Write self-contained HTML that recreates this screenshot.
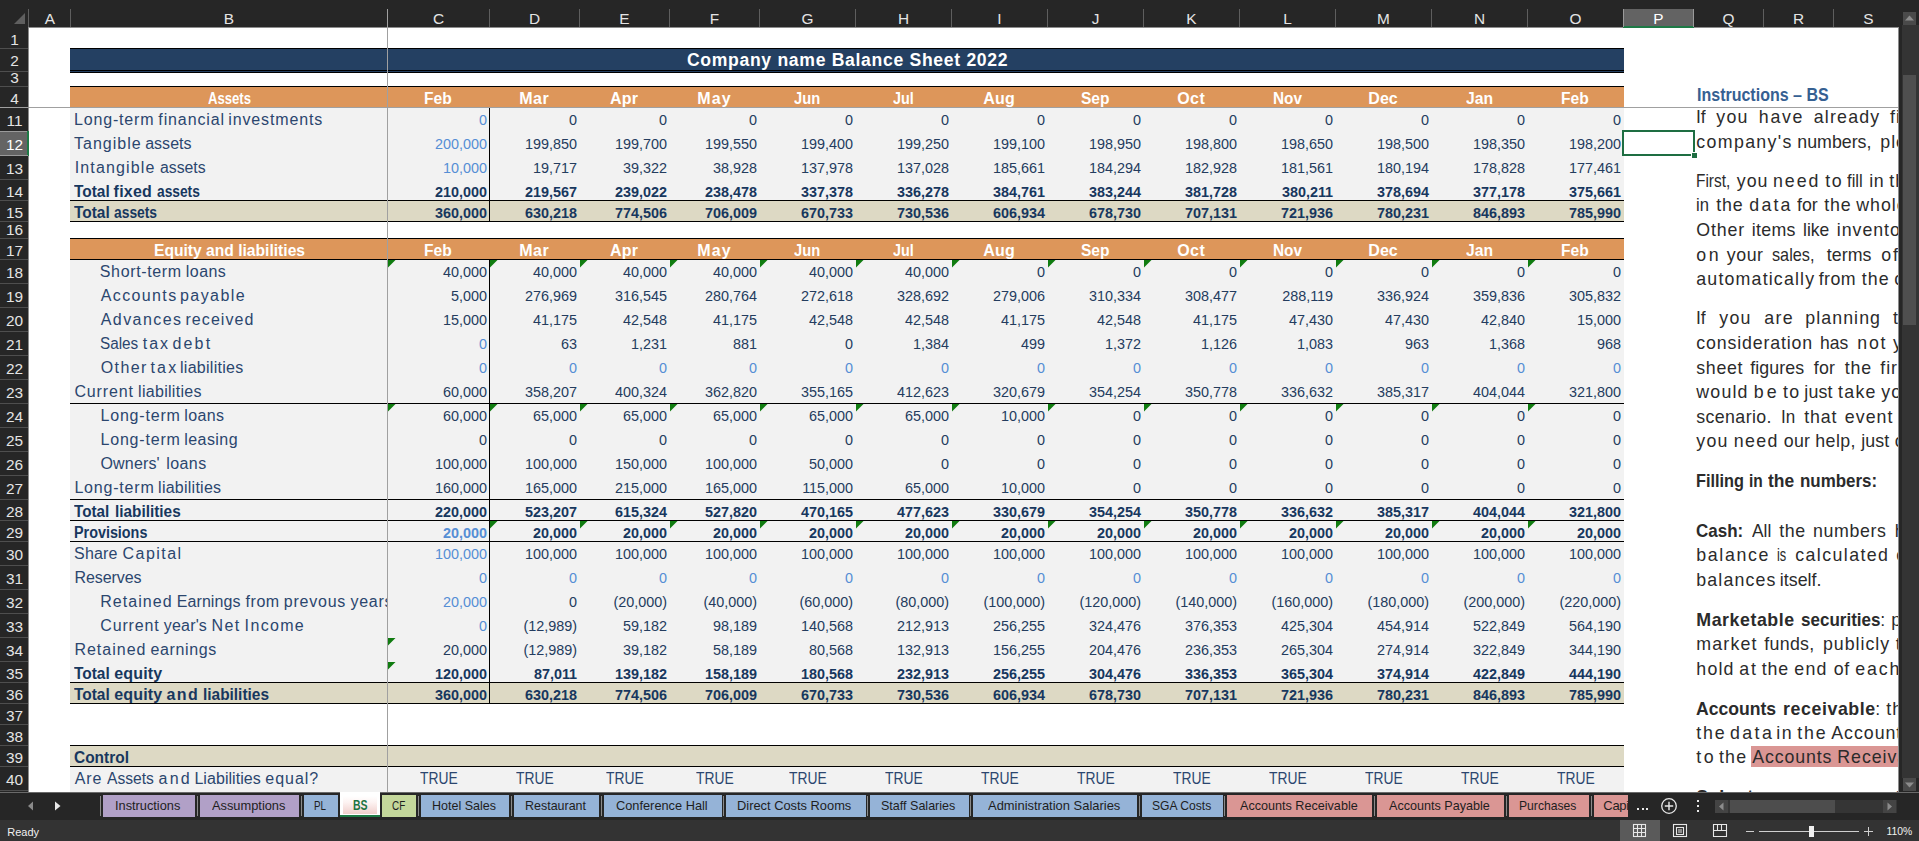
<!DOCTYPE html>
<html><head><meta charset="utf-8"><title>Balance Sheet</title>
<style>
html,body{margin:0;padding:0;background:#fff;}
body{width:1919px;height:841px;overflow:hidden;position:relative;font-family:"Liberation Sans",sans-serif;}
#r{position:absolute;left:0;top:0;width:1919px;height:841px;overflow:hidden;}
#r div,#r svg.a{position:absolute;}
.t{white-space:nowrap;line-height:1;}
</style></head><body><div id="r">
<div style="left:70px;top:48px;width:1554px;height:1px;background:#000;"></div>
<div style="left:70px;top:49px;width:1554px;height:21px;background:#244062;"></div>
<div style="left:70px;top:70px;width:1554px;height:1px;background:#000;"></div>
<div style="left:70px;top:71px;width:1554px;height:1px;background:#244062;"></div>
<div style="left:70px;top:72px;width:1554px;height:1px;background:#000;"></div>
<div style="left:70px;top:86px;width:1554px;height:1px;background:#000;"></div>
<div style="left:70px;top:87px;width:1554px;height:20px;background:#dd965a;"></div>
<div style="left:70px;top:108px;width:1554px;height:92px;background:#f2f2f2;"></div>
<div style="left:70px;top:200px;width:1554px;height:1px;background:#000;"></div>
<div style="left:70px;top:201px;width:1554px;height:20px;background:#ddd9c4;"></div>
<div style="left:70px;top:221px;width:1554px;height:1px;background:#000;"></div>
<div style="left:70px;top:238px;width:1554px;height:1px;background:#000;"></div>
<div style="left:70px;top:239px;width:1554px;height:20px;background:#dd965a;"></div>
<div style="left:70px;top:259px;width:1554px;height:1px;background:#000;"></div>
<div style="left:70px;top:260px;width:1554px;height:422px;background:#f2f2f2;"></div>
<div style="left:70px;top:403px;width:1554px;height:1px;background:#000;"></div>
<div style="left:70px;top:499px;width:1554px;height:1px;background:#000;"></div>
<div style="left:70px;top:520px;width:1554px;height:1px;background:#000;"></div>
<div style="left:70px;top:541px;width:1554px;height:1px;background:#000;"></div>
<div style="left:70px;top:682px;width:1554px;height:1px;background:#000;"></div>
<div style="left:70px;top:683px;width:1554px;height:20px;background:#ddd9c4;"></div>
<div style="left:70px;top:703px;width:1554px;height:1px;background:#000;"></div>
<div style="left:70px;top:745px;width:1554px;height:1px;background:#000;"></div>
<div style="left:70px;top:746px;width:1554px;height:20px;background:#ddd9c4;"></div>
<div style="left:70px;top:766px;width:1554px;height:1px;background:#000;"></div>
<div style="left:70px;top:767px;width:1554px;height:25px;background:#f2f2f2;"></div>
<div style="left:489px;top:108px;width:1px;height:114px;background:#000;"></div>
<div style="left:489px;top:260px;width:1px;height:444px;background:#000;"></div>
<div class="t " style="top:112.46px;font-size:16px;color:#2b466e;letter-spacing:0.829px;left:74.02px;">Long-term</div>
<div class="t " style="top:112.46px;font-size:16px;color:#2b466e;letter-spacing:0.882px;left:158.32px;">financial</div>
<div class="t " style="top:112.46px;font-size:16px;color:#2b466e;letter-spacing:0.849px;left:228.32px;">investments</div>
<div class="t " style="top:136.46px;font-size:16px;color:#2b466e;letter-spacing:1.008px;left:74.02px;">Tangible</div>
<div class="t " style="top:136.46px;font-size:16px;color:#2b466e;letter-spacing:0.003px;left:145.22px;">assets</div>
<div class="t " style="top:160.46px;font-size:16px;color:#2b466e;letter-spacing:1.152px;left:74.72px;">Intangible</div>
<div class="t " style="top:160.46px;font-size:16px;color:#2b466e;left:159.52px;transform:scaleX(0.9874);transform-origin:0 0;">assets</div>
<div class="t " style="top:183.96px;font-size:16px;color:#17375e;font-weight:bold;left:74.02px;transform:scaleX(0.9656);transform-origin:0 0;">Total</div>
<div class="t " style="top:183.96px;font-size:16px;color:#17375e;font-weight:bold;letter-spacing:0.229px;left:113.62px;">fixed</div>
<div class="t " style="top:183.96px;font-size:16px;color:#17375e;font-weight:bold;left:156.62px;transform:scaleX(0.8603);transform-origin:0 0;">assets</div>
<div class="t " style="top:204.96px;font-size:16px;color:#17375e;font-weight:bold;left:74.02px;transform:scaleX(0.9656);transform-origin:0 0;">Total</div>
<div class="t " style="top:204.96px;font-size:16px;color:#17375e;font-weight:bold;left:114.32px;transform:scaleX(0.8643);transform-origin:0 0;">assets</div>
<div class="t " style="top:264.46px;font-size:16px;color:#2b466e;letter-spacing:0.632px;left:99.82px;">Short-term</div>
<div class="t " style="top:264.46px;font-size:16px;color:#2b466e;letter-spacing:0.452px;left:185.82px;">loans</div>
<div class="t " style="top:288.46px;font-size:16px;color:#2b466e;letter-spacing:1.378px;left:100.72px;">Accounts</div>
<div class="t " style="top:288.46px;font-size:16px;color:#2b466e;letter-spacing:1.435px;left:180.02px;">payable</div>
<div class="t " style="top:312.46px;font-size:16px;color:#2b466e;letter-spacing:1.427px;left:100.72px;">Advances</div>
<div class="t " style="top:312.46px;font-size:16px;color:#2b466e;letter-spacing:1.083px;left:185.42px;">received</div>
<div class="t " style="top:336.46px;font-size:16px;color:#2b466e;left:100.02px;transform:scaleX(0.9559);transform-origin:0 0;">Sales</div>
<div class="t " style="top:336.46px;font-size:16px;color:#2b466e;letter-spacing:2.008px;left:142.72px;">tax</div>
<div class="t " style="top:336.46px;font-size:16px;color:#2b466e;letter-spacing:2.140px;left:172.52px;">debt</div>
<div class="t " style="top:360.46px;font-size:16px;color:#2b466e;letter-spacing:1.411px;left:100.72px;">Other</div>
<div class="t " style="top:360.46px;font-size:16px;color:#2b466e;letter-spacing:2.208px;left:150.42px;">tax</div>
<div class="t " style="top:360.46px;font-size:16px;color:#2b466e;letter-spacing:0.279px;left:180.02px;">liabilities</div>
<div class="t " style="top:384.46px;font-size:16px;color:#2b466e;letter-spacing:0.851px;left:74.42px;">Current</div>
<div class="t " style="top:384.46px;font-size:16px;color:#2b466e;letter-spacing:0.289px;left:138.12px;">liabilities</div>
<div class="t " style="top:408.46px;font-size:16px;color:#2b466e;letter-spacing:0.804px;left:100.52px;">Long-term</div>
<div class="t " style="top:408.46px;font-size:16px;color:#2b466e;letter-spacing:0.402px;left:184.22px;">loans</div>
<div class="t " style="top:432.46px;font-size:16px;color:#2b466e;letter-spacing:0.804px;left:100.52px;">Long-term</div>
<div class="t " style="top:432.46px;font-size:16px;color:#2b466e;letter-spacing:0.442px;left:184.22px;">leasing</div>
<div class="t " style="top:456.46px;font-size:16px;color:#2b466e;letter-spacing:0.163px;left:100.52px;">Owners&#39;</div>
<div class="t " style="top:456.46px;font-size:16px;color:#2b466e;letter-spacing:0.427px;left:166.22px;">loans</div>
<div class="t " style="top:480.46px;font-size:16px;color:#2b466e;letter-spacing:0.804px;left:74.42px;">Long-term</div>
<div class="t " style="top:480.46px;font-size:16px;color:#2b466e;letter-spacing:0.249px;left:158.12px;">liabilities</div>
<div class="t " style="top:503.96px;font-size:16px;color:#17375e;font-weight:bold;left:74.02px;transform:scaleX(0.9521);transform-origin:0 0;">Total</div>
<div class="t " style="top:503.96px;font-size:16px;color:#17375e;font-weight:bold;left:114.62px;transform:scaleX(0.9590);transform-origin:0 0;">liabilities</div>
<div class="t " style="top:524.96px;font-size:16px;color:#17375e;font-weight:bold;left:74.02px;transform:scaleX(0.8968);transform-origin:0 0;">Provisions</div>
<div class="t " style="top:546.46px;font-size:16px;color:#2b466e;letter-spacing:0.191px;left:74.02px;">Share</div>
<div class="t " style="top:546.46px;font-size:16px;color:#2b466e;letter-spacing:1.459px;left:122.52px;">Capital</div>
<div class="t " style="top:570.46px;font-size:16px;color:#2b466e;letter-spacing:-0.060px;left:74.42px;">Reserves</div>
<div style="left:70px;top:589px;width:317px;height:24px;overflow:hidden">
<div class="t " style="top:5.46px;font-size:16px;color:#2b466e;letter-spacing:1.059px;left:30.22px;">Retained</div>
<div class="t " style="top:5.46px;font-size:16px;color:#2b466e;letter-spacing:0.087px;left:106.72px;">Earnings</div>
<div class="t " style="top:5.46px;font-size:16px;color:#2b466e;letter-spacing:0.553px;left:175.52px;">from</div>
<div class="t " style="top:5.46px;font-size:16px;color:#2b466e;letter-spacing:0.773px;left:213.82px;">prevous</div>
<div class="t " style="top:5.46px;font-size:16px;color:#2b466e;letter-spacing:0.733px;left:280.42px;">years</div>
</div>
<div class="t " style="top:618.46px;font-size:16px;color:#2b466e;letter-spacing:0.868px;left:100.22px;">Current</div>
<div class="t " style="top:618.46px;font-size:16px;color:#2b466e;letter-spacing:0.176px;left:163.82px;">year&#39;s</div>
<div class="t " style="top:618.46px;font-size:16px;color:#2b466e;letter-spacing:1.381px;left:211.62px;">Net</div>
<div class="t " style="top:618.46px;font-size:16px;color:#2b466e;letter-spacing:1.338px;left:244.62px;">Income</div>
<div class="t " style="top:642.46px;font-size:16px;color:#2b466e;letter-spacing:1.002px;left:74.42px;">Retained</div>
<div class="t " style="top:642.46px;font-size:16px;color:#2b466e;letter-spacing:0.655px;left:150.42px;">earnings</div>
<div class="t " style="top:665.96px;font-size:16px;color:#17375e;font-weight:bold;left:74.02px;transform:scaleX(0.9656);transform-origin:0 0;">Total</div>
<div class="t " style="top:665.96px;font-size:16px;color:#17375e;font-weight:bold;letter-spacing:0.148px;left:114.32px;">equity</div>
<div class="t " style="top:686.96px;font-size:16px;color:#17375e;font-weight:bold;left:74.02px;transform:scaleX(0.9656);transform-origin:0 0;">Total</div>
<div class="t " style="top:686.96px;font-size:16px;color:#17375e;font-weight:bold;letter-spacing:0.148px;left:114.32px;">equity</div>
<div class="t " style="top:686.96px;font-size:16px;color:#17375e;font-weight:bold;letter-spacing:1.457px;left:166.42px;">and</div>
<div class="t " style="top:686.96px;font-size:16px;color:#17375e;font-weight:bold;left:202.52px;transform:scaleX(0.9634);transform-origin:0 0;">liabilities</div>
<div class="t " style="top:749.96px;font-size:16px;color:#17375e;font-weight:bold;left:74.02px;transform:scaleX(0.9663);transform-origin:0 0;">Control</div>
<div class="t " style="top:771.46px;font-size:16px;color:#2b466e;letter-spacing:0.930px;left:74.72px;">Are</div>
<div class="t " style="top:771.46px;font-size:16px;color:#2b466e;left:106.72px;transform:scaleX(0.9759);transform-origin:0 0;">Assets</div>
<div class="t " style="top:771.46px;font-size:16px;color:#2b466e;letter-spacing:2.182px;left:158.62px;">and</div>
<div class="t " style="top:771.46px;font-size:16px;color:#2b466e;letter-spacing:0.055px;left:194.42px;">Liabilities</div>
<div class="t " style="top:771.46px;font-size:16px;color:#2b466e;letter-spacing:0.962px;left:265.32px;">equal?</div>
<div class="t " style="top:91.16px;font-size:16px;color:#fff;font-weight:bold;left:207.50px;transform:scaleX(0.8194);transform-origin:0 0;">Assets</div>
<div class="t " style="top:91.16px;font-size:16px;color:#fff;font-weight:bold;left:424.15px;transform:scaleX(0.9738);transform-origin:0 0;">Feb</div>
<div class="t " style="top:91.16px;font-size:16px;color:#fff;font-weight:bold;letter-spacing:0.423px;left:519.35px;">Mar</div>
<div class="t " style="top:91.16px;font-size:16px;color:#fff;font-weight:bold;letter-spacing:0.223px;left:610.00px;">Apr</div>
<div class="t " style="top:91.16px;font-size:16px;color:#fff;font-weight:bold;letter-spacing:1.137px;left:697.30px;">May</div>
<div class="t " style="top:91.16px;font-size:16px;color:#fff;font-weight:bold;left:793.90px;transform:scaleX(0.9210);transform-origin:0 0;">Jun</div>
<div class="t " style="top:91.16px;font-size:16px;color:#fff;font-weight:bold;left:892.65px;transform:scaleX(0.8954);transform-origin:0 0;">Jul</div>
<div class="t " style="top:91.16px;font-size:16px;color:#fff;font-weight:bold;letter-spacing:0.199px;left:983.25px;">Aug</div>
<div class="t " style="top:91.16px;font-size:16px;color:#fff;font-weight:bold;left:1080.75px;transform:scaleX(0.9712);transform-origin:0 0;">Sep</div>
<div class="t " style="top:91.16px;font-size:16px;color:#fff;font-weight:bold;letter-spacing:0.414px;left:1177.25px;">Oct</div>
<div class="t " style="top:91.16px;font-size:16px;color:#fff;font-weight:bold;left:1272.50px;transform:scaleX(0.9594);transform-origin:0 0;">Nov</div>
<div class="t " style="top:91.16px;font-size:16px;color:#fff;font-weight:bold;letter-spacing:0.074px;left:1368.25px;">Dec</div>
<div class="t " style="top:91.16px;font-size:16px;color:#fff;font-weight:bold;left:1465.50px;transform:scaleX(0.9793);transform-origin:0 0;">Jan</div>
<div class="t " style="top:91.16px;font-size:16px;color:#fff;font-weight:bold;left:1561.15px;transform:scaleX(0.9738);transform-origin:0 0;">Feb</div>
<div class="t " style="top:243.16px;font-size:16px;color:#fff;font-weight:bold;left:153.50px;transform:scaleX(0.9761);transform-origin:0 0;">Equity and liabilities</div>
<div class="t " style="top:243.16px;font-size:16px;color:#fff;font-weight:bold;left:424.15px;transform:scaleX(0.9738);transform-origin:0 0;">Feb</div>
<div class="t " style="top:243.16px;font-size:16px;color:#fff;font-weight:bold;letter-spacing:0.423px;left:519.35px;">Mar</div>
<div class="t " style="top:243.16px;font-size:16px;color:#fff;font-weight:bold;letter-spacing:0.223px;left:610.00px;">Apr</div>
<div class="t " style="top:243.16px;font-size:16px;color:#fff;font-weight:bold;letter-spacing:1.137px;left:697.30px;">May</div>
<div class="t " style="top:243.16px;font-size:16px;color:#fff;font-weight:bold;left:793.90px;transform:scaleX(0.9210);transform-origin:0 0;">Jun</div>
<div class="t " style="top:243.16px;font-size:16px;color:#fff;font-weight:bold;left:892.65px;transform:scaleX(0.8954);transform-origin:0 0;">Jul</div>
<div class="t " style="top:243.16px;font-size:16px;color:#fff;font-weight:bold;letter-spacing:0.199px;left:983.25px;">Aug</div>
<div class="t " style="top:243.16px;font-size:16px;color:#fff;font-weight:bold;left:1080.75px;transform:scaleX(0.9712);transform-origin:0 0;">Sep</div>
<div class="t " style="top:243.16px;font-size:16px;color:#fff;font-weight:bold;letter-spacing:0.414px;left:1177.25px;">Oct</div>
<div class="t " style="top:243.16px;font-size:16px;color:#fff;font-weight:bold;left:1272.50px;transform:scaleX(0.9594);transform-origin:0 0;">Nov</div>
<div class="t " style="top:243.16px;font-size:16px;color:#fff;font-weight:bold;letter-spacing:0.074px;left:1368.25px;">Dec</div>
<div class="t " style="top:243.16px;font-size:16px;color:#fff;font-weight:bold;left:1465.50px;transform:scaleX(0.9793);transform-origin:0 0;">Jan</div>
<div class="t " style="top:243.16px;font-size:16px;color:#fff;font-weight:bold;left:1561.15px;transform:scaleX(0.9738);transform-origin:0 0;">Feb</div>
<div class="t " style="top:52.10px;font-size:17.6px;color:#fff;font-weight:bold;letter-spacing:0.683px;left:686.90px;">Company name Balance Sheet 2022</div>
<div class="t " style="top:113.01px;font-size:14.4px;color:#558ed5;right:1431.90px;">0</div>
<div class="t " style="top:113.01px;font-size:14.4px;color:#243c5e;right:1341.90px;">0</div>
<div class="t " style="top:113.01px;font-size:14.4px;color:#243c5e;right:1251.90px;">0</div>
<div class="t " style="top:113.01px;font-size:14.4px;color:#243c5e;right:1161.90px;">0</div>
<div class="t " style="top:113.01px;font-size:14.4px;color:#243c5e;right:1065.90px;">0</div>
<div class="t " style="top:113.01px;font-size:14.4px;color:#243c5e;right:969.90px;">0</div>
<div class="t " style="top:113.01px;font-size:14.4px;color:#243c5e;right:873.90px;">0</div>
<div class="t " style="top:113.01px;font-size:14.4px;color:#243c5e;right:777.90px;">0</div>
<div class="t " style="top:113.01px;font-size:14.4px;color:#243c5e;right:681.90px;">0</div>
<div class="t " style="top:113.01px;font-size:14.4px;color:#243c5e;right:585.90px;">0</div>
<div class="t " style="top:113.01px;font-size:14.4px;color:#243c5e;right:489.90px;">0</div>
<div class="t " style="top:113.01px;font-size:14.4px;color:#243c5e;right:393.90px;">0</div>
<div class="t " style="top:113.01px;font-size:14.4px;color:#243c5e;right:297.90px;">0</div>
<div class="t " style="top:137.01px;font-size:14.4px;color:#558ed5;right:1431.90px;">200,000</div>
<div class="t " style="top:137.01px;font-size:14.4px;color:#243c5e;right:1341.90px;">199,850</div>
<div class="t " style="top:137.01px;font-size:14.4px;color:#243c5e;right:1251.90px;">199,700</div>
<div class="t " style="top:137.01px;font-size:14.4px;color:#243c5e;right:1161.90px;">199,550</div>
<div class="t " style="top:137.01px;font-size:14.4px;color:#243c5e;right:1065.90px;">199,400</div>
<div class="t " style="top:137.01px;font-size:14.4px;color:#243c5e;right:969.90px;">199,250</div>
<div class="t " style="top:137.01px;font-size:14.4px;color:#243c5e;right:873.90px;">199,100</div>
<div class="t " style="top:137.01px;font-size:14.4px;color:#243c5e;right:777.90px;">198,950</div>
<div class="t " style="top:137.01px;font-size:14.4px;color:#243c5e;right:681.90px;">198,800</div>
<div class="t " style="top:137.01px;font-size:14.4px;color:#243c5e;right:585.90px;">198,650</div>
<div class="t " style="top:137.01px;font-size:14.4px;color:#243c5e;right:489.90px;">198,500</div>
<div class="t " style="top:137.01px;font-size:14.4px;color:#243c5e;right:393.90px;">198,350</div>
<div class="t " style="top:137.01px;font-size:14.4px;color:#243c5e;right:297.90px;">198,200</div>
<div class="t " style="top:161.01px;font-size:14.4px;color:#558ed5;right:1431.90px;">10,000</div>
<div class="t " style="top:161.01px;font-size:14.4px;color:#243c5e;right:1341.90px;">19,717</div>
<div class="t " style="top:161.01px;font-size:14.4px;color:#243c5e;right:1251.90px;">39,322</div>
<div class="t " style="top:161.01px;font-size:14.4px;color:#243c5e;right:1161.90px;">38,928</div>
<div class="t " style="top:161.01px;font-size:14.4px;color:#243c5e;right:1065.90px;">137,978</div>
<div class="t " style="top:161.01px;font-size:14.4px;color:#243c5e;right:969.90px;">137,028</div>
<div class="t " style="top:161.01px;font-size:14.4px;color:#243c5e;right:873.90px;">185,661</div>
<div class="t " style="top:161.01px;font-size:14.4px;color:#243c5e;right:777.90px;">184,294</div>
<div class="t " style="top:161.01px;font-size:14.4px;color:#243c5e;right:681.90px;">182,928</div>
<div class="t " style="top:161.01px;font-size:14.4px;color:#243c5e;right:585.90px;">181,561</div>
<div class="t " style="top:161.01px;font-size:14.4px;color:#243c5e;right:489.90px;">180,194</div>
<div class="t " style="top:161.01px;font-size:14.4px;color:#243c5e;right:393.90px;">178,828</div>
<div class="t " style="top:161.01px;font-size:14.4px;color:#243c5e;right:297.90px;">177,461</div>
<div class="t " style="top:185.31px;font-size:14.4px;color:#17375e;font-weight:bold;right:1431.90px;">210,000</div>
<div class="t " style="top:185.31px;font-size:14.4px;color:#17375e;font-weight:bold;right:1341.90px;">219,567</div>
<div class="t " style="top:185.31px;font-size:14.4px;color:#17375e;font-weight:bold;right:1251.90px;">239,022</div>
<div class="t " style="top:185.31px;font-size:14.4px;color:#17375e;font-weight:bold;right:1161.90px;">238,478</div>
<div class="t " style="top:185.31px;font-size:14.4px;color:#17375e;font-weight:bold;right:1065.90px;">337,378</div>
<div class="t " style="top:185.31px;font-size:14.4px;color:#17375e;font-weight:bold;right:969.90px;">336,278</div>
<div class="t " style="top:185.31px;font-size:14.4px;color:#17375e;font-weight:bold;right:873.90px;">384,761</div>
<div class="t " style="top:185.31px;font-size:14.4px;color:#17375e;font-weight:bold;right:777.90px;">383,244</div>
<div class="t " style="top:185.31px;font-size:14.4px;color:#17375e;font-weight:bold;right:681.90px;">381,728</div>
<div class="t " style="top:185.31px;font-size:14.4px;color:#17375e;font-weight:bold;right:585.90px;">380,211</div>
<div class="t " style="top:185.31px;font-size:14.4px;color:#17375e;font-weight:bold;right:489.90px;">378,694</div>
<div class="t " style="top:185.31px;font-size:14.4px;color:#17375e;font-weight:bold;right:393.90px;">377,178</div>
<div class="t " style="top:185.31px;font-size:14.4px;color:#17375e;font-weight:bold;right:297.90px;">375,661</div>
<div class="t " style="top:206.31px;font-size:14.4px;color:#17375e;font-weight:bold;right:1431.90px;">360,000</div>
<div class="t " style="top:206.31px;font-size:14.4px;color:#17375e;font-weight:bold;right:1341.90px;">630,218</div>
<div class="t " style="top:206.31px;font-size:14.4px;color:#17375e;font-weight:bold;right:1251.90px;">774,506</div>
<div class="t " style="top:206.31px;font-size:14.4px;color:#17375e;font-weight:bold;right:1161.90px;">706,009</div>
<div class="t " style="top:206.31px;font-size:14.4px;color:#17375e;font-weight:bold;right:1065.90px;">670,733</div>
<div class="t " style="top:206.31px;font-size:14.4px;color:#17375e;font-weight:bold;right:969.90px;">730,536</div>
<div class="t " style="top:206.31px;font-size:14.4px;color:#17375e;font-weight:bold;right:873.90px;">606,934</div>
<div class="t " style="top:206.31px;font-size:14.4px;color:#17375e;font-weight:bold;right:777.90px;">678,730</div>
<div class="t " style="top:206.31px;font-size:14.4px;color:#17375e;font-weight:bold;right:681.90px;">707,131</div>
<div class="t " style="top:206.31px;font-size:14.4px;color:#17375e;font-weight:bold;right:585.90px;">721,936</div>
<div class="t " style="top:206.31px;font-size:14.4px;color:#17375e;font-weight:bold;right:489.90px;">780,231</div>
<div class="t " style="top:206.31px;font-size:14.4px;color:#17375e;font-weight:bold;right:393.90px;">846,893</div>
<div class="t " style="top:206.31px;font-size:14.4px;color:#17375e;font-weight:bold;right:297.90px;">785,990</div>
<div class="t " style="top:265.01px;font-size:14.4px;color:#243c5e;right:1431.90px;">40,000</div>
<div class="t " style="top:265.01px;font-size:14.4px;color:#243c5e;right:1341.90px;">40,000</div>
<div class="t " style="top:265.01px;font-size:14.4px;color:#243c5e;right:1251.90px;">40,000</div>
<div class="t " style="top:265.01px;font-size:14.4px;color:#243c5e;right:1161.90px;">40,000</div>
<div class="t " style="top:265.01px;font-size:14.4px;color:#243c5e;right:1065.90px;">40,000</div>
<div class="t " style="top:265.01px;font-size:14.4px;color:#243c5e;right:969.90px;">40,000</div>
<div class="t " style="top:265.01px;font-size:14.4px;color:#243c5e;right:873.90px;">0</div>
<div class="t " style="top:265.01px;font-size:14.4px;color:#243c5e;right:777.90px;">0</div>
<div class="t " style="top:265.01px;font-size:14.4px;color:#243c5e;right:681.90px;">0</div>
<div class="t " style="top:265.01px;font-size:14.4px;color:#243c5e;right:585.90px;">0</div>
<div class="t " style="top:265.01px;font-size:14.4px;color:#243c5e;right:489.90px;">0</div>
<div class="t " style="top:265.01px;font-size:14.4px;color:#243c5e;right:393.90px;">0</div>
<div class="t " style="top:265.01px;font-size:14.4px;color:#243c5e;right:297.90px;">0</div>
<div class="t " style="top:289.01px;font-size:14.4px;color:#243c5e;right:1431.90px;">5,000</div>
<div class="t " style="top:289.01px;font-size:14.4px;color:#243c5e;right:1341.90px;">276,969</div>
<div class="t " style="top:289.01px;font-size:14.4px;color:#243c5e;right:1251.90px;">316,545</div>
<div class="t " style="top:289.01px;font-size:14.4px;color:#243c5e;right:1161.90px;">280,764</div>
<div class="t " style="top:289.01px;font-size:14.4px;color:#243c5e;right:1065.90px;">272,618</div>
<div class="t " style="top:289.01px;font-size:14.4px;color:#243c5e;right:969.90px;">328,692</div>
<div class="t " style="top:289.01px;font-size:14.4px;color:#243c5e;right:873.90px;">279,006</div>
<div class="t " style="top:289.01px;font-size:14.4px;color:#243c5e;right:777.90px;">310,334</div>
<div class="t " style="top:289.01px;font-size:14.4px;color:#243c5e;right:681.90px;">308,477</div>
<div class="t " style="top:289.01px;font-size:14.4px;color:#243c5e;right:585.90px;">288,119</div>
<div class="t " style="top:289.01px;font-size:14.4px;color:#243c5e;right:489.90px;">336,924</div>
<div class="t " style="top:289.01px;font-size:14.4px;color:#243c5e;right:393.90px;">359,836</div>
<div class="t " style="top:289.01px;font-size:14.4px;color:#243c5e;right:297.90px;">305,832</div>
<div class="t " style="top:313.01px;font-size:14.4px;color:#243c5e;right:1431.90px;">15,000</div>
<div class="t " style="top:313.01px;font-size:14.4px;color:#243c5e;right:1341.90px;">41,175</div>
<div class="t " style="top:313.01px;font-size:14.4px;color:#243c5e;right:1251.90px;">42,548</div>
<div class="t " style="top:313.01px;font-size:14.4px;color:#243c5e;right:1161.90px;">41,175</div>
<div class="t " style="top:313.01px;font-size:14.4px;color:#243c5e;right:1065.90px;">42,548</div>
<div class="t " style="top:313.01px;font-size:14.4px;color:#243c5e;right:969.90px;">42,548</div>
<div class="t " style="top:313.01px;font-size:14.4px;color:#243c5e;right:873.90px;">41,175</div>
<div class="t " style="top:313.01px;font-size:14.4px;color:#243c5e;right:777.90px;">42,548</div>
<div class="t " style="top:313.01px;font-size:14.4px;color:#243c5e;right:681.90px;">41,175</div>
<div class="t " style="top:313.01px;font-size:14.4px;color:#243c5e;right:585.90px;">47,430</div>
<div class="t " style="top:313.01px;font-size:14.4px;color:#243c5e;right:489.90px;">47,430</div>
<div class="t " style="top:313.01px;font-size:14.4px;color:#243c5e;right:393.90px;">42,840</div>
<div class="t " style="top:313.01px;font-size:14.4px;color:#243c5e;right:297.90px;">15,000</div>
<div class="t " style="top:337.01px;font-size:14.4px;color:#558ed5;right:1431.90px;">0</div>
<div class="t " style="top:337.01px;font-size:14.4px;color:#243c5e;right:1341.90px;">63</div>
<div class="t " style="top:337.01px;font-size:14.4px;color:#243c5e;right:1251.90px;">1,231</div>
<div class="t " style="top:337.01px;font-size:14.4px;color:#243c5e;right:1161.90px;">881</div>
<div class="t " style="top:337.01px;font-size:14.4px;color:#243c5e;right:1065.90px;">0</div>
<div class="t " style="top:337.01px;font-size:14.4px;color:#243c5e;right:969.90px;">1,384</div>
<div class="t " style="top:337.01px;font-size:14.4px;color:#243c5e;right:873.90px;">499</div>
<div class="t " style="top:337.01px;font-size:14.4px;color:#243c5e;right:777.90px;">1,372</div>
<div class="t " style="top:337.01px;font-size:14.4px;color:#243c5e;right:681.90px;">1,126</div>
<div class="t " style="top:337.01px;font-size:14.4px;color:#243c5e;right:585.90px;">1,083</div>
<div class="t " style="top:337.01px;font-size:14.4px;color:#243c5e;right:489.90px;">963</div>
<div class="t " style="top:337.01px;font-size:14.4px;color:#243c5e;right:393.90px;">1,368</div>
<div class="t " style="top:337.01px;font-size:14.4px;color:#243c5e;right:297.90px;">968</div>
<div class="t " style="top:361.01px;font-size:14.4px;color:#558ed5;right:1431.90px;">0</div>
<div class="t " style="top:361.01px;font-size:14.4px;color:#558ed5;right:1341.90px;">0</div>
<div class="t " style="top:361.01px;font-size:14.4px;color:#558ed5;right:1251.90px;">0</div>
<div class="t " style="top:361.01px;font-size:14.4px;color:#558ed5;right:1161.90px;">0</div>
<div class="t " style="top:361.01px;font-size:14.4px;color:#558ed5;right:1065.90px;">0</div>
<div class="t " style="top:361.01px;font-size:14.4px;color:#558ed5;right:969.90px;">0</div>
<div class="t " style="top:361.01px;font-size:14.4px;color:#558ed5;right:873.90px;">0</div>
<div class="t " style="top:361.01px;font-size:14.4px;color:#558ed5;right:777.90px;">0</div>
<div class="t " style="top:361.01px;font-size:14.4px;color:#558ed5;right:681.90px;">0</div>
<div class="t " style="top:361.01px;font-size:14.4px;color:#558ed5;right:585.90px;">0</div>
<div class="t " style="top:361.01px;font-size:14.4px;color:#558ed5;right:489.90px;">0</div>
<div class="t " style="top:361.01px;font-size:14.4px;color:#558ed5;right:393.90px;">0</div>
<div class="t " style="top:361.01px;font-size:14.4px;color:#558ed5;right:297.90px;">0</div>
<div class="t " style="top:385.01px;font-size:14.4px;color:#243c5e;right:1431.90px;">60,000</div>
<div class="t " style="top:385.01px;font-size:14.4px;color:#243c5e;right:1341.90px;">358,207</div>
<div class="t " style="top:385.01px;font-size:14.4px;color:#243c5e;right:1251.90px;">400,324</div>
<div class="t " style="top:385.01px;font-size:14.4px;color:#243c5e;right:1161.90px;">362,820</div>
<div class="t " style="top:385.01px;font-size:14.4px;color:#243c5e;right:1065.90px;">355,165</div>
<div class="t " style="top:385.01px;font-size:14.4px;color:#243c5e;right:969.90px;">412,623</div>
<div class="t " style="top:385.01px;font-size:14.4px;color:#243c5e;right:873.90px;">320,679</div>
<div class="t " style="top:385.01px;font-size:14.4px;color:#243c5e;right:777.90px;">354,254</div>
<div class="t " style="top:385.01px;font-size:14.4px;color:#243c5e;right:681.90px;">350,778</div>
<div class="t " style="top:385.01px;font-size:14.4px;color:#243c5e;right:585.90px;">336,632</div>
<div class="t " style="top:385.01px;font-size:14.4px;color:#243c5e;right:489.90px;">385,317</div>
<div class="t " style="top:385.01px;font-size:14.4px;color:#243c5e;right:393.90px;">404,044</div>
<div class="t " style="top:385.01px;font-size:14.4px;color:#243c5e;right:297.90px;">321,800</div>
<div class="t " style="top:409.01px;font-size:14.4px;color:#243c5e;right:1431.90px;">60,000</div>
<div class="t " style="top:409.01px;font-size:14.4px;color:#243c5e;right:1341.90px;">65,000</div>
<div class="t " style="top:409.01px;font-size:14.4px;color:#243c5e;right:1251.90px;">65,000</div>
<div class="t " style="top:409.01px;font-size:14.4px;color:#243c5e;right:1161.90px;">65,000</div>
<div class="t " style="top:409.01px;font-size:14.4px;color:#243c5e;right:1065.90px;">65,000</div>
<div class="t " style="top:409.01px;font-size:14.4px;color:#243c5e;right:969.90px;">65,000</div>
<div class="t " style="top:409.01px;font-size:14.4px;color:#243c5e;right:873.90px;">10,000</div>
<div class="t " style="top:409.01px;font-size:14.4px;color:#243c5e;right:777.90px;">0</div>
<div class="t " style="top:409.01px;font-size:14.4px;color:#243c5e;right:681.90px;">0</div>
<div class="t " style="top:409.01px;font-size:14.4px;color:#243c5e;right:585.90px;">0</div>
<div class="t " style="top:409.01px;font-size:14.4px;color:#243c5e;right:489.90px;">0</div>
<div class="t " style="top:409.01px;font-size:14.4px;color:#243c5e;right:393.90px;">0</div>
<div class="t " style="top:409.01px;font-size:14.4px;color:#243c5e;right:297.90px;">0</div>
<div class="t " style="top:433.01px;font-size:14.4px;color:#243c5e;right:1431.90px;">0</div>
<div class="t " style="top:433.01px;font-size:14.4px;color:#243c5e;right:1341.90px;">0</div>
<div class="t " style="top:433.01px;font-size:14.4px;color:#243c5e;right:1251.90px;">0</div>
<div class="t " style="top:433.01px;font-size:14.4px;color:#243c5e;right:1161.90px;">0</div>
<div class="t " style="top:433.01px;font-size:14.4px;color:#243c5e;right:1065.90px;">0</div>
<div class="t " style="top:433.01px;font-size:14.4px;color:#243c5e;right:969.90px;">0</div>
<div class="t " style="top:433.01px;font-size:14.4px;color:#243c5e;right:873.90px;">0</div>
<div class="t " style="top:433.01px;font-size:14.4px;color:#243c5e;right:777.90px;">0</div>
<div class="t " style="top:433.01px;font-size:14.4px;color:#243c5e;right:681.90px;">0</div>
<div class="t " style="top:433.01px;font-size:14.4px;color:#243c5e;right:585.90px;">0</div>
<div class="t " style="top:433.01px;font-size:14.4px;color:#243c5e;right:489.90px;">0</div>
<div class="t " style="top:433.01px;font-size:14.4px;color:#243c5e;right:393.90px;">0</div>
<div class="t " style="top:433.01px;font-size:14.4px;color:#243c5e;right:297.90px;">0</div>
<div class="t " style="top:457.01px;font-size:14.4px;color:#243c5e;right:1431.90px;">100,000</div>
<div class="t " style="top:457.01px;font-size:14.4px;color:#243c5e;right:1341.90px;">100,000</div>
<div class="t " style="top:457.01px;font-size:14.4px;color:#243c5e;right:1251.90px;">150,000</div>
<div class="t " style="top:457.01px;font-size:14.4px;color:#243c5e;right:1161.90px;">100,000</div>
<div class="t " style="top:457.01px;font-size:14.4px;color:#243c5e;right:1065.90px;">50,000</div>
<div class="t " style="top:457.01px;font-size:14.4px;color:#243c5e;right:969.90px;">0</div>
<div class="t " style="top:457.01px;font-size:14.4px;color:#243c5e;right:873.90px;">0</div>
<div class="t " style="top:457.01px;font-size:14.4px;color:#243c5e;right:777.90px;">0</div>
<div class="t " style="top:457.01px;font-size:14.4px;color:#243c5e;right:681.90px;">0</div>
<div class="t " style="top:457.01px;font-size:14.4px;color:#243c5e;right:585.90px;">0</div>
<div class="t " style="top:457.01px;font-size:14.4px;color:#243c5e;right:489.90px;">0</div>
<div class="t " style="top:457.01px;font-size:14.4px;color:#243c5e;right:393.90px;">0</div>
<div class="t " style="top:457.01px;font-size:14.4px;color:#243c5e;right:297.90px;">0</div>
<div class="t " style="top:481.01px;font-size:14.4px;color:#243c5e;right:1431.90px;">160,000</div>
<div class="t " style="top:481.01px;font-size:14.4px;color:#243c5e;right:1341.90px;">165,000</div>
<div class="t " style="top:481.01px;font-size:14.4px;color:#243c5e;right:1251.90px;">215,000</div>
<div class="t " style="top:481.01px;font-size:14.4px;color:#243c5e;right:1161.90px;">165,000</div>
<div class="t " style="top:481.01px;font-size:14.4px;color:#243c5e;right:1065.90px;">115,000</div>
<div class="t " style="top:481.01px;font-size:14.4px;color:#243c5e;right:969.90px;">65,000</div>
<div class="t " style="top:481.01px;font-size:14.4px;color:#243c5e;right:873.90px;">10,000</div>
<div class="t " style="top:481.01px;font-size:14.4px;color:#243c5e;right:777.90px;">0</div>
<div class="t " style="top:481.01px;font-size:14.4px;color:#243c5e;right:681.90px;">0</div>
<div class="t " style="top:481.01px;font-size:14.4px;color:#243c5e;right:585.90px;">0</div>
<div class="t " style="top:481.01px;font-size:14.4px;color:#243c5e;right:489.90px;">0</div>
<div class="t " style="top:481.01px;font-size:14.4px;color:#243c5e;right:393.90px;">0</div>
<div class="t " style="top:481.01px;font-size:14.4px;color:#243c5e;right:297.90px;">0</div>
<div class="t " style="top:505.31px;font-size:14.4px;color:#17375e;font-weight:bold;right:1431.90px;">220,000</div>
<div class="t " style="top:505.31px;font-size:14.4px;color:#17375e;font-weight:bold;right:1341.90px;">523,207</div>
<div class="t " style="top:505.31px;font-size:14.4px;color:#17375e;font-weight:bold;right:1251.90px;">615,324</div>
<div class="t " style="top:505.31px;font-size:14.4px;color:#17375e;font-weight:bold;right:1161.90px;">527,820</div>
<div class="t " style="top:505.31px;font-size:14.4px;color:#17375e;font-weight:bold;right:1065.90px;">470,165</div>
<div class="t " style="top:505.31px;font-size:14.4px;color:#17375e;font-weight:bold;right:969.90px;">477,623</div>
<div class="t " style="top:505.31px;font-size:14.4px;color:#17375e;font-weight:bold;right:873.90px;">330,679</div>
<div class="t " style="top:505.31px;font-size:14.4px;color:#17375e;font-weight:bold;right:777.90px;">354,254</div>
<div class="t " style="top:505.31px;font-size:14.4px;color:#17375e;font-weight:bold;right:681.90px;">350,778</div>
<div class="t " style="top:505.31px;font-size:14.4px;color:#17375e;font-weight:bold;right:585.90px;">336,632</div>
<div class="t " style="top:505.31px;font-size:14.4px;color:#17375e;font-weight:bold;right:489.90px;">385,317</div>
<div class="t " style="top:505.31px;font-size:14.4px;color:#17375e;font-weight:bold;right:393.90px;">404,044</div>
<div class="t " style="top:505.31px;font-size:14.4px;color:#17375e;font-weight:bold;right:297.90px;">321,800</div>
<div class="t " style="top:526.31px;font-size:14.4px;color:#558ed5;font-weight:bold;right:1431.90px;">20,000</div>
<div class="t " style="top:526.31px;font-size:14.4px;color:#17375e;font-weight:bold;right:1341.90px;">20,000</div>
<div class="t " style="top:526.31px;font-size:14.4px;color:#17375e;font-weight:bold;right:1251.90px;">20,000</div>
<div class="t " style="top:526.31px;font-size:14.4px;color:#17375e;font-weight:bold;right:1161.90px;">20,000</div>
<div class="t " style="top:526.31px;font-size:14.4px;color:#17375e;font-weight:bold;right:1065.90px;">20,000</div>
<div class="t " style="top:526.31px;font-size:14.4px;color:#17375e;font-weight:bold;right:969.90px;">20,000</div>
<div class="t " style="top:526.31px;font-size:14.4px;color:#17375e;font-weight:bold;right:873.90px;">20,000</div>
<div class="t " style="top:526.31px;font-size:14.4px;color:#17375e;font-weight:bold;right:777.90px;">20,000</div>
<div class="t " style="top:526.31px;font-size:14.4px;color:#17375e;font-weight:bold;right:681.90px;">20,000</div>
<div class="t " style="top:526.31px;font-size:14.4px;color:#17375e;font-weight:bold;right:585.90px;">20,000</div>
<div class="t " style="top:526.31px;font-size:14.4px;color:#17375e;font-weight:bold;right:489.90px;">20,000</div>
<div class="t " style="top:526.31px;font-size:14.4px;color:#17375e;font-weight:bold;right:393.90px;">20,000</div>
<div class="t " style="top:526.31px;font-size:14.4px;color:#17375e;font-weight:bold;right:297.90px;">20,000</div>
<div class="t " style="top:547.01px;font-size:14.4px;color:#558ed5;right:1431.90px;">100,000</div>
<div class="t " style="top:547.01px;font-size:14.4px;color:#243c5e;right:1341.90px;">100,000</div>
<div class="t " style="top:547.01px;font-size:14.4px;color:#243c5e;right:1251.90px;">100,000</div>
<div class="t " style="top:547.01px;font-size:14.4px;color:#243c5e;right:1161.90px;">100,000</div>
<div class="t " style="top:547.01px;font-size:14.4px;color:#243c5e;right:1065.90px;">100,000</div>
<div class="t " style="top:547.01px;font-size:14.4px;color:#243c5e;right:969.90px;">100,000</div>
<div class="t " style="top:547.01px;font-size:14.4px;color:#243c5e;right:873.90px;">100,000</div>
<div class="t " style="top:547.01px;font-size:14.4px;color:#243c5e;right:777.90px;">100,000</div>
<div class="t " style="top:547.01px;font-size:14.4px;color:#243c5e;right:681.90px;">100,000</div>
<div class="t " style="top:547.01px;font-size:14.4px;color:#243c5e;right:585.90px;">100,000</div>
<div class="t " style="top:547.01px;font-size:14.4px;color:#243c5e;right:489.90px;">100,000</div>
<div class="t " style="top:547.01px;font-size:14.4px;color:#243c5e;right:393.90px;">100,000</div>
<div class="t " style="top:547.01px;font-size:14.4px;color:#243c5e;right:297.90px;">100,000</div>
<div class="t " style="top:571.01px;font-size:14.4px;color:#558ed5;right:1431.90px;">0</div>
<div class="t " style="top:571.01px;font-size:14.4px;color:#558ed5;right:1341.90px;">0</div>
<div class="t " style="top:571.01px;font-size:14.4px;color:#558ed5;right:1251.90px;">0</div>
<div class="t " style="top:571.01px;font-size:14.4px;color:#558ed5;right:1161.90px;">0</div>
<div class="t " style="top:571.01px;font-size:14.4px;color:#558ed5;right:1065.90px;">0</div>
<div class="t " style="top:571.01px;font-size:14.4px;color:#558ed5;right:969.90px;">0</div>
<div class="t " style="top:571.01px;font-size:14.4px;color:#558ed5;right:873.90px;">0</div>
<div class="t " style="top:571.01px;font-size:14.4px;color:#558ed5;right:777.90px;">0</div>
<div class="t " style="top:571.01px;font-size:14.4px;color:#558ed5;right:681.90px;">0</div>
<div class="t " style="top:571.01px;font-size:14.4px;color:#558ed5;right:585.90px;">0</div>
<div class="t " style="top:571.01px;font-size:14.4px;color:#558ed5;right:489.90px;">0</div>
<div class="t " style="top:571.01px;font-size:14.4px;color:#558ed5;right:393.90px;">0</div>
<div class="t " style="top:571.01px;font-size:14.4px;color:#558ed5;right:297.90px;">0</div>
<div class="t " style="top:595.01px;font-size:14.4px;color:#558ed5;right:1431.90px;">20,000</div>
<div class="t " style="top:595.01px;font-size:14.4px;color:#243c5e;right:1341.90px;">0</div>
<div class="t " style="top:595.01px;font-size:14.4px;color:#243c5e;right:1251.90px;">(20,000)</div>
<div class="t " style="top:595.01px;font-size:14.4px;color:#243c5e;right:1161.90px;">(40,000)</div>
<div class="t " style="top:595.01px;font-size:14.4px;color:#243c5e;right:1065.90px;">(60,000)</div>
<div class="t " style="top:595.01px;font-size:14.4px;color:#243c5e;right:969.90px;">(80,000)</div>
<div class="t " style="top:595.01px;font-size:14.4px;color:#243c5e;right:873.90px;">(100,000)</div>
<div class="t " style="top:595.01px;font-size:14.4px;color:#243c5e;right:777.90px;">(120,000)</div>
<div class="t " style="top:595.01px;font-size:14.4px;color:#243c5e;right:681.90px;">(140,000)</div>
<div class="t " style="top:595.01px;font-size:14.4px;color:#243c5e;right:585.90px;">(160,000)</div>
<div class="t " style="top:595.01px;font-size:14.4px;color:#243c5e;right:489.90px;">(180,000)</div>
<div class="t " style="top:595.01px;font-size:14.4px;color:#243c5e;right:393.90px;">(200,000)</div>
<div class="t " style="top:595.01px;font-size:14.4px;color:#243c5e;right:297.90px;">(220,000)</div>
<div class="t " style="top:619.01px;font-size:14.4px;color:#558ed5;right:1431.90px;">0</div>
<div class="t " style="top:619.01px;font-size:14.4px;color:#243c5e;right:1341.90px;">(12,989)</div>
<div class="t " style="top:619.01px;font-size:14.4px;color:#243c5e;right:1251.90px;">59,182</div>
<div class="t " style="top:619.01px;font-size:14.4px;color:#243c5e;right:1161.90px;">98,189</div>
<div class="t " style="top:619.01px;font-size:14.4px;color:#243c5e;right:1065.90px;">140,568</div>
<div class="t " style="top:619.01px;font-size:14.4px;color:#243c5e;right:969.90px;">212,913</div>
<div class="t " style="top:619.01px;font-size:14.4px;color:#243c5e;right:873.90px;">256,255</div>
<div class="t " style="top:619.01px;font-size:14.4px;color:#243c5e;right:777.90px;">324,476</div>
<div class="t " style="top:619.01px;font-size:14.4px;color:#243c5e;right:681.90px;">376,353</div>
<div class="t " style="top:619.01px;font-size:14.4px;color:#243c5e;right:585.90px;">425,304</div>
<div class="t " style="top:619.01px;font-size:14.4px;color:#243c5e;right:489.90px;">454,914</div>
<div class="t " style="top:619.01px;font-size:14.4px;color:#243c5e;right:393.90px;">522,849</div>
<div class="t " style="top:619.01px;font-size:14.4px;color:#243c5e;right:297.90px;">564,190</div>
<div class="t " style="top:643.01px;font-size:14.4px;color:#243c5e;right:1431.90px;">20,000</div>
<div class="t " style="top:643.01px;font-size:14.4px;color:#243c5e;right:1341.90px;">(12,989)</div>
<div class="t " style="top:643.01px;font-size:14.4px;color:#243c5e;right:1251.90px;">39,182</div>
<div class="t " style="top:643.01px;font-size:14.4px;color:#243c5e;right:1161.90px;">58,189</div>
<div class="t " style="top:643.01px;font-size:14.4px;color:#243c5e;right:1065.90px;">80,568</div>
<div class="t " style="top:643.01px;font-size:14.4px;color:#243c5e;right:969.90px;">132,913</div>
<div class="t " style="top:643.01px;font-size:14.4px;color:#243c5e;right:873.90px;">156,255</div>
<div class="t " style="top:643.01px;font-size:14.4px;color:#243c5e;right:777.90px;">204,476</div>
<div class="t " style="top:643.01px;font-size:14.4px;color:#243c5e;right:681.90px;">236,353</div>
<div class="t " style="top:643.01px;font-size:14.4px;color:#243c5e;right:585.90px;">265,304</div>
<div class="t " style="top:643.01px;font-size:14.4px;color:#243c5e;right:489.90px;">274,914</div>
<div class="t " style="top:643.01px;font-size:14.4px;color:#243c5e;right:393.90px;">322,849</div>
<div class="t " style="top:643.01px;font-size:14.4px;color:#243c5e;right:297.90px;">344,190</div>
<div class="t " style="top:667.31px;font-size:14.4px;color:#17375e;font-weight:bold;right:1431.90px;">120,000</div>
<div class="t " style="top:667.31px;font-size:14.4px;color:#17375e;font-weight:bold;right:1341.90px;">87,011</div>
<div class="t " style="top:667.31px;font-size:14.4px;color:#17375e;font-weight:bold;right:1251.90px;">139,182</div>
<div class="t " style="top:667.31px;font-size:14.4px;color:#17375e;font-weight:bold;right:1161.90px;">158,189</div>
<div class="t " style="top:667.31px;font-size:14.4px;color:#17375e;font-weight:bold;right:1065.90px;">180,568</div>
<div class="t " style="top:667.31px;font-size:14.4px;color:#17375e;font-weight:bold;right:969.90px;">232,913</div>
<div class="t " style="top:667.31px;font-size:14.4px;color:#17375e;font-weight:bold;right:873.90px;">256,255</div>
<div class="t " style="top:667.31px;font-size:14.4px;color:#17375e;font-weight:bold;right:777.90px;">304,476</div>
<div class="t " style="top:667.31px;font-size:14.4px;color:#17375e;font-weight:bold;right:681.90px;">336,353</div>
<div class="t " style="top:667.31px;font-size:14.4px;color:#17375e;font-weight:bold;right:585.90px;">365,304</div>
<div class="t " style="top:667.31px;font-size:14.4px;color:#17375e;font-weight:bold;right:489.90px;">374,914</div>
<div class="t " style="top:667.31px;font-size:14.4px;color:#17375e;font-weight:bold;right:393.90px;">422,849</div>
<div class="t " style="top:667.31px;font-size:14.4px;color:#17375e;font-weight:bold;right:297.90px;">444,190</div>
<div class="t " style="top:688.31px;font-size:14.4px;color:#17375e;font-weight:bold;right:1431.90px;">360,000</div>
<div class="t " style="top:688.31px;font-size:14.4px;color:#17375e;font-weight:bold;right:1341.90px;">630,218</div>
<div class="t " style="top:688.31px;font-size:14.4px;color:#17375e;font-weight:bold;right:1251.90px;">774,506</div>
<div class="t " style="top:688.31px;font-size:14.4px;color:#17375e;font-weight:bold;right:1161.90px;">706,009</div>
<div class="t " style="top:688.31px;font-size:14.4px;color:#17375e;font-weight:bold;right:1065.90px;">670,733</div>
<div class="t " style="top:688.31px;font-size:14.4px;color:#17375e;font-weight:bold;right:969.90px;">730,536</div>
<div class="t " style="top:688.31px;font-size:14.4px;color:#17375e;font-weight:bold;right:873.90px;">606,934</div>
<div class="t " style="top:688.31px;font-size:14.4px;color:#17375e;font-weight:bold;right:777.90px;">678,730</div>
<div class="t " style="top:688.31px;font-size:14.4px;color:#17375e;font-weight:bold;right:681.90px;">707,131</div>
<div class="t " style="top:688.31px;font-size:14.4px;color:#17375e;font-weight:bold;right:585.90px;">721,936</div>
<div class="t " style="top:688.31px;font-size:14.4px;color:#17375e;font-weight:bold;right:489.90px;">780,231</div>
<div class="t " style="top:688.31px;font-size:14.4px;color:#17375e;font-weight:bold;right:393.90px;">846,893</div>
<div class="t " style="top:688.31px;font-size:14.4px;color:#17375e;font-weight:bold;right:297.90px;">785,990</div>
<div class="t " style="top:771.46px;font-size:16px;color:#2b466e;left:419.65px;transform:scaleX(0.8655);transform-origin:0 0;">TRUE</div>
<div class="t " style="top:771.46px;font-size:16px;color:#2b466e;left:515.65px;transform:scaleX(0.8655);transform-origin:0 0;">TRUE</div>
<div class="t " style="top:771.46px;font-size:16px;color:#2b466e;left:605.65px;transform:scaleX(0.8655);transform-origin:0 0;">TRUE</div>
<div class="t " style="top:771.46px;font-size:16px;color:#2b466e;left:695.65px;transform:scaleX(0.8655);transform-origin:0 0;">TRUE</div>
<div class="t " style="top:771.46px;font-size:16px;color:#2b466e;left:788.65px;transform:scaleX(0.8655);transform-origin:0 0;">TRUE</div>
<div class="t " style="top:771.46px;font-size:16px;color:#2b466e;left:884.65px;transform:scaleX(0.8655);transform-origin:0 0;">TRUE</div>
<div class="t " style="top:771.46px;font-size:16px;color:#2b466e;left:980.65px;transform:scaleX(0.8655);transform-origin:0 0;">TRUE</div>
<div class="t " style="top:771.46px;font-size:16px;color:#2b466e;left:1076.65px;transform:scaleX(0.8655);transform-origin:0 0;">TRUE</div>
<div class="t " style="top:771.46px;font-size:16px;color:#2b466e;left:1172.65px;transform:scaleX(0.8655);transform-origin:0 0;">TRUE</div>
<div class="t " style="top:771.46px;font-size:16px;color:#2b466e;left:1268.65px;transform:scaleX(0.8655);transform-origin:0 0;">TRUE</div>
<div class="t " style="top:771.46px;font-size:16px;color:#2b466e;left:1364.65px;transform:scaleX(0.8655);transform-origin:0 0;">TRUE</div>
<div class="t " style="top:771.46px;font-size:16px;color:#2b466e;left:1460.65px;transform:scaleX(0.8655);transform-origin:0 0;">TRUE</div>
<div class="t " style="top:771.46px;font-size:16px;color:#2b466e;left:1556.65px;transform:scaleX(0.8655);transform-origin:0 0;">TRUE</div>
<svg class="a" style="left:388px;top:260px" width="8" height="8"><polygon points="0,0 7.5,0 0,7.5" fill="#107c10"/></svg>
<svg class="a" style="left:388px;top:404px" width="8" height="8"><polygon points="0,0 7.5,0 0,7.5" fill="#107c10"/></svg>
<svg class="a" style="left:490px;top:260px" width="8" height="8"><polygon points="0,0 7.5,0 0,7.5" fill="#107c10"/></svg>
<svg class="a" style="left:490px;top:404px" width="8" height="8"><polygon points="0,0 7.5,0 0,7.5" fill="#107c10"/></svg>
<svg class="a" style="left:580px;top:260px" width="8" height="8"><polygon points="0,0 7.5,0 0,7.5" fill="#107c10"/></svg>
<svg class="a" style="left:580px;top:404px" width="8" height="8"><polygon points="0,0 7.5,0 0,7.5" fill="#107c10"/></svg>
<svg class="a" style="left:670px;top:260px" width="8" height="8"><polygon points="0,0 7.5,0 0,7.5" fill="#107c10"/></svg>
<svg class="a" style="left:670px;top:404px" width="8" height="8"><polygon points="0,0 7.5,0 0,7.5" fill="#107c10"/></svg>
<svg class="a" style="left:760px;top:260px" width="8" height="8"><polygon points="0,0 7.5,0 0,7.5" fill="#107c10"/></svg>
<svg class="a" style="left:760px;top:404px" width="8" height="8"><polygon points="0,0 7.5,0 0,7.5" fill="#107c10"/></svg>
<svg class="a" style="left:856px;top:260px" width="8" height="8"><polygon points="0,0 7.5,0 0,7.5" fill="#107c10"/></svg>
<svg class="a" style="left:856px;top:404px" width="8" height="8"><polygon points="0,0 7.5,0 0,7.5" fill="#107c10"/></svg>
<svg class="a" style="left:952px;top:260px" width="8" height="8"><polygon points="0,0 7.5,0 0,7.5" fill="#107c10"/></svg>
<svg class="a" style="left:952px;top:404px" width="8" height="8"><polygon points="0,0 7.5,0 0,7.5" fill="#107c10"/></svg>
<svg class="a" style="left:1048px;top:260px" width="8" height="8"><polygon points="0,0 7.5,0 0,7.5" fill="#107c10"/></svg>
<svg class="a" style="left:1048px;top:404px" width="8" height="8"><polygon points="0,0 7.5,0 0,7.5" fill="#107c10"/></svg>
<svg class="a" style="left:1144px;top:260px" width="8" height="8"><polygon points="0,0 7.5,0 0,7.5" fill="#107c10"/></svg>
<svg class="a" style="left:1144px;top:404px" width="8" height="8"><polygon points="0,0 7.5,0 0,7.5" fill="#107c10"/></svg>
<svg class="a" style="left:1240px;top:260px" width="8" height="8"><polygon points="0,0 7.5,0 0,7.5" fill="#107c10"/></svg>
<svg class="a" style="left:1240px;top:404px" width="8" height="8"><polygon points="0,0 7.5,0 0,7.5" fill="#107c10"/></svg>
<svg class="a" style="left:1336px;top:260px" width="8" height="8"><polygon points="0,0 7.5,0 0,7.5" fill="#107c10"/></svg>
<svg class="a" style="left:1336px;top:404px" width="8" height="8"><polygon points="0,0 7.5,0 0,7.5" fill="#107c10"/></svg>
<svg class="a" style="left:1432px;top:260px" width="8" height="8"><polygon points="0,0 7.5,0 0,7.5" fill="#107c10"/></svg>
<svg class="a" style="left:1432px;top:404px" width="8" height="8"><polygon points="0,0 7.5,0 0,7.5" fill="#107c10"/></svg>
<svg class="a" style="left:1528px;top:260px" width="8" height="8"><polygon points="0,0 7.5,0 0,7.5" fill="#107c10"/></svg>
<svg class="a" style="left:1528px;top:404px" width="8" height="8"><polygon points="0,0 7.5,0 0,7.5" fill="#107c10"/></svg>
<svg class="a" style="left:490px;top:521px" width="8" height="8"><polygon points="0,0 7.5,0 0,7.5" fill="#107c10"/></svg>
<svg class="a" style="left:580px;top:521px" width="8" height="8"><polygon points="0,0 7.5,0 0,7.5" fill="#107c10"/></svg>
<svg class="a" style="left:670px;top:521px" width="8" height="8"><polygon points="0,0 7.5,0 0,7.5" fill="#107c10"/></svg>
<svg class="a" style="left:760px;top:521px" width="8" height="8"><polygon points="0,0 7.5,0 0,7.5" fill="#107c10"/></svg>
<svg class="a" style="left:856px;top:521px" width="8" height="8"><polygon points="0,0 7.5,0 0,7.5" fill="#107c10"/></svg>
<svg class="a" style="left:952px;top:521px" width="8" height="8"><polygon points="0,0 7.5,0 0,7.5" fill="#107c10"/></svg>
<svg class="a" style="left:1048px;top:521px" width="8" height="8"><polygon points="0,0 7.5,0 0,7.5" fill="#107c10"/></svg>
<svg class="a" style="left:1144px;top:521px" width="8" height="8"><polygon points="0,0 7.5,0 0,7.5" fill="#107c10"/></svg>
<svg class="a" style="left:1240px;top:521px" width="8" height="8"><polygon points="0,0 7.5,0 0,7.5" fill="#107c10"/></svg>
<svg class="a" style="left:1336px;top:521px" width="8" height="8"><polygon points="0,0 7.5,0 0,7.5" fill="#107c10"/></svg>
<svg class="a" style="left:1432px;top:521px" width="8" height="8"><polygon points="0,0 7.5,0 0,7.5" fill="#107c10"/></svg>
<svg class="a" style="left:1528px;top:521px" width="8" height="8"><polygon points="0,0 7.5,0 0,7.5" fill="#107c10"/></svg>
<svg class="a" style="left:388px;top:638px" width="8" height="8"><polygon points="0,0 7.5,0 0,7.5" fill="#107c10"/></svg>
<svg class="a" style="left:388px;top:662px" width="8" height="8"><polygon points="0,0 7.5,0 0,7.5" fill="#107c10"/></svg>
<div class="t " style="top:87.10px;font-size:17.6px;color:#366092;font-weight:bold;left:1696.50px;transform:scaleX(0.9099);transform-origin:0 0;">Instructions – BS</div>
<div id="ins" style="left:1624px;top:108px;width:275px;height:684px;overflow:hidden">
<div style="left:127px;top:638px;width:200px;height:21px;background:#da9694"></div>
<div class="t" style="left:72.3px;top:1.03px;font-size:17.8px;color:#2b2b2b;transform:scaleX(0.9854);transform-origin:0 0;">If</div>
<div class="t" style="left:92.3px;top:1.03px;font-size:17.8px;color:#2b2b2b;letter-spacing:1.273px;">you</div>
<div class="t" style="left:134.8px;top:1.03px;font-size:17.8px;color:#2b2b2b;letter-spacing:1.715px;">have</div>
<div class="t" style="left:189.8px;top:1.03px;font-size:17.8px;color:#2b2b2b;letter-spacing:1.177px;">already</div>
<div class="t" style="left:266.0px;top:1.03px;font-size:17.8px;color:#2b2b2b;letter-spacing:0.95px;">fill</div>
<div class="t" style="left:72.3px;top:25.63px;font-size:17.8px;color:#2b2b2b;letter-spacing:1.340px;">company&#39;s</div>
<div class="t" style="left:173.3px;top:25.63px;font-size:17.8px;color:#2b2b2b;letter-spacing:0.006px;">numbers,</div>
<div class="t" style="left:256.3px;top:25.63px;font-size:17.8px;color:#2b2b2b;letter-spacing:0.95px;">please</div>
<div class="t" style="left:72.3px;top:64.83px;font-size:17.8px;color:#2b2b2b;transform:scaleX(0.8660);transform-origin:0 0;">First,</div>
<div class="t" style="left:112.8px;top:64.83px;font-size:17.8px;color:#2b2b2b;letter-spacing:1.023px;">you</div>
<div class="t" style="left:149.0px;top:64.83px;font-size:17.8px;color:#2b2b2b;letter-spacing:1.982px;">need</div>
<div class="t" style="left:201.3px;top:64.83px;font-size:17.8px;color:#2b2b2b;letter-spacing:1.401px;">to</div>
<div class="t" style="left:223.3px;top:64.83px;font-size:17.8px;color:#2b2b2b;transform:scaleX(0.9367);transform-origin:0 0;">fill</div>
<div class="t" style="left:245.3px;top:64.83px;font-size:17.8px;color:#2b2b2b;letter-spacing:0.391px;">in</div>
<div class="t" style="left:265.3px;top:64.83px;font-size:17.8px;color:#2b2b2b;letter-spacing:0.95px;">the</div>
<div class="t" style="left:72.3px;top:89.43px;font-size:17.8px;color:#2b2b2b;transform:scaleX(0.9344);transform-origin:0 0;">in</div>
<div class="t" style="left:92.3px;top:89.43px;font-size:17.8px;color:#2b2b2b;letter-spacing:0.751px;">the</div>
<div class="t" style="left:125.3px;top:89.43px;font-size:17.8px;color:#2b2b2b;letter-spacing:2.200px;">data</div>
<div class="t" style="left:172.8px;top:89.43px;font-size:17.8px;color:#2b2b2b;transform:scaleX(0.9987);transform-origin:0 0;">for</div>
<div class="t" style="left:200.3px;top:89.43px;font-size:17.8px;color:#2b2b2b;letter-spacing:0.751px;">the</div>
<div class="t" style="left:232.3px;top:89.43px;font-size:17.8px;color:#2b2b2b;letter-spacing:0.95px;">whole</div>
<div class="t" style="left:72.3px;top:114.03px;font-size:17.8px;color:#2b2b2b;letter-spacing:0.857px;">Other</div>
<div class="t" style="left:127.8px;top:114.03px;font-size:17.8px;color:#2b2b2b;letter-spacing:0.304px;">items</div>
<div class="t" style="left:179.0px;top:114.03px;font-size:17.8px;color:#2b2b2b;transform:scaleX(0.9826);transform-origin:0 0;">like</div>
<div class="t" style="left:212.8px;top:114.03px;font-size:17.8px;color:#2b2b2b;letter-spacing:0.95px;">inventory</div>
<div class="t" style="left:72.3px;top:138.63px;font-size:17.8px;color:#2b2b2b;letter-spacing:2.446px;">on</div>
<div class="t" style="left:102.8px;top:138.63px;font-size:17.8px;color:#2b2b2b;letter-spacing:0.539px;">your</div>
<div class="t" style="left:147.8px;top:138.63px;font-size:17.8px;color:#2b2b2b;transform:scaleX(0.9128);transform-origin:0 0;">sales,</div>
<div class="t" style="left:202.8px;top:138.63px;font-size:17.8px;color:#2b2b2b;letter-spacing:0.061px;">terms</div>
<div class="t" style="left:257.3px;top:138.63px;font-size:17.8px;color:#2b2b2b;letter-spacing:1.901px;">of</div>
<div class="t" style="left:72.3px;top:163.23px;font-size:17.8px;color:#2b2b2b;letter-spacing:1.172px;">automatically</div>
<div class="t" style="left:194.8px;top:163.23px;font-size:17.8px;color:#2b2b2b;letter-spacing:0.382px;">from</div>
<div class="t" style="left:237.8px;top:163.23px;font-size:17.8px;color:#2b2b2b;letter-spacing:1.001px;">the</div>
<div class="t" style="left:270.3px;top:163.23px;font-size:17.8px;color:#2b2b2b;letter-spacing:0.95px;">c</div>
<div class="t" style="left:72.3px;top:202.43px;font-size:17.8px;color:#2b2b2b;transform:scaleX(0.9854);transform-origin:0 0;">If</div>
<div class="t" style="left:95.3px;top:202.43px;font-size:17.8px;color:#2b2b2b;letter-spacing:1.273px;">you</div>
<div class="t" style="left:140.3px;top:202.43px;font-size:17.8px;color:#2b2b2b;letter-spacing:1.259px;">are</div>
<div class="t" style="left:181.3px;top:202.43px;font-size:17.8px;color:#2b2b2b;letter-spacing:1.062px;">planning</div>
<div class="t" style="left:269.0px;top:202.43px;font-size:17.8px;color:#2b2b2b;letter-spacing:0.95px;">to</div>
<div class="t" style="left:72.3px;top:227.03px;font-size:17.8px;color:#2b2b2b;letter-spacing:0.839px;">consideration</div>
<div class="t" style="left:196.3px;top:227.03px;font-size:17.8px;color:#2b2b2b;transform:scaleX(0.9842);transform-origin:0 0;">has</div>
<div class="t" style="left:233.3px;top:227.03px;font-size:17.8px;color:#2b2b2b;letter-spacing:1.751px;">not</div>
<div class="t" style="left:269.0px;top:227.03px;font-size:17.8px;color:#2b2b2b;letter-spacing:0.95px;">yet</div>
<div class="t" style="left:72.3px;top:251.63px;font-size:17.8px;color:#2b2b2b;letter-spacing:0.675px;">sheet</div>
<div class="t" style="left:126.3px;top:251.63px;font-size:17.8px;color:#2b2b2b;letter-spacing:0.086px;">figures</div>
<div class="t" style="left:189.8px;top:251.63px;font-size:17.8px;color:#2b2b2b;letter-spacing:0.236px;">for</div>
<div class="t" style="left:220.8px;top:251.63px;font-size:17.8px;color:#2b2b2b;letter-spacing:0.751px;">the</div>
<div class="t" style="left:256.3px;top:251.63px;font-size:17.8px;color:#2b2b2b;letter-spacing:0.95px;">first</div>
<div class="t" style="left:72.3px;top:276.23px;font-size:17.8px;color:#2b2b2b;letter-spacing:1.184px;">would</div>
<div class="t" style="left:129.8px;top:276.23px;font-size:17.8px;color:#2b2b2b;letter-spacing:2.946px;">be</div>
<div class="t" style="left:159.0px;top:276.23px;font-size:17.8px;color:#2b2b2b;letter-spacing:1.401px;">to</div>
<div class="t" style="left:180.3px;top:276.23px;font-size:17.8px;color:#2b2b2b;letter-spacing:0.182px;">just</div>
<div class="t" style="left:214.0px;top:276.23px;font-size:17.8px;color:#2b2b2b;letter-spacing:1.300px;">take</div>
<div class="t" style="left:257.3px;top:276.23px;font-size:17.8px;color:#2b2b2b;letter-spacing:0.95px;">your</div>
<div class="t" style="left:72.3px;top:300.83px;font-size:17.8px;color:#2b2b2b;letter-spacing:0.377px;">scenario.</div>
<div class="t" style="left:157.3px;top:300.83px;font-size:17.8px;color:#2b2b2b;transform:scaleX(0.9597);transform-origin:0 0;">In</div>
<div class="t" style="left:180.3px;top:300.83px;font-size:17.8px;color:#2b2b2b;letter-spacing:0.852px;">that</div>
<div class="t" style="left:220.8px;top:300.83px;font-size:17.8px;color:#2b2b2b;letter-spacing:1.050px;">event</div>
<div class="t" style="left:72.3px;top:325.43px;font-size:17.8px;color:#2b2b2b;letter-spacing:1.273px;">you</div>
<div class="t" style="left:109.8px;top:325.43px;font-size:17.8px;color:#2b2b2b;letter-spacing:1.382px;">need</div>
<div class="t" style="left:159.8px;top:325.43px;font-size:17.8px;color:#2b2b2b;letter-spacing:0.259px;">our</div>
<div class="t" style="left:191.3px;top:325.43px;font-size:17.8px;color:#2b2b2b;letter-spacing:0.412px;">help,</div>
<div class="t" style="left:237.3px;top:325.43px;font-size:17.8px;color:#2b2b2b;letter-spacing:0.082px;">just</div>
<div class="t" style="left:270.8px;top:325.43px;font-size:17.8px;color:#2b2b2b;letter-spacing:0.95px;">c</div>
<div class="t" style="left:72.3px;top:364.73px;font-size:17.8px;color:#2b2b2b;transform:scaleX(0.9150);transform-origin:0 0;font-weight:bold;">Filling</div>
<div class="t" style="left:125.3px;top:364.73px;font-size:17.8px;color:#2b2b2b;transform:scaleX(0.8690);transform-origin:0 0;font-weight:bold;">in</div>
<div class="t" style="left:144.0px;top:364.73px;font-size:17.8px;color:#2b2b2b;transform:scaleX(0.9829);transform-origin:0 0;font-weight:bold;">the</div>
<div class="t" style="left:176.3px;top:364.73px;font-size:17.8px;color:#2b2b2b;transform:scaleX(0.9525);transform-origin:0 0;font-weight:bold;">numbers:</div>
<div class="t" style="left:72.3px;top:414.73px;font-size:17.8px;color:#2b2b2b;transform:scaleX(0.9553);transform-origin:0 0;font-weight:bold;">Cash:</div>
<div class="t" style="left:127.8px;top:414.73px;font-size:17.8px;color:#2b2b2b;transform:scaleX(0.9729);transform-origin:0 0;">All</div>
<div class="t" style="left:155.3px;top:414.73px;font-size:17.8px;color:#2b2b2b;letter-spacing:0.501px;">the</div>
<div class="t" style="left:189.0px;top:414.73px;font-size:17.8px;color:#2b2b2b;letter-spacing:0.632px;">numbers</div>
<div class="t" style="left:270.8px;top:414.73px;font-size:17.8px;color:#2b2b2b;letter-spacing:0.95px;">h</div>
<div class="t" style="left:72.3px;top:439.33px;font-size:17.8px;color:#2b2b2b;letter-spacing:1.649px;">balance</div>
<div class="t" style="left:153.3px;top:439.33px;font-size:17.8px;color:#2b2b2b;transform:scaleX(0.7193);transform-origin:0 0;">is</div>
<div class="t" style="left:171.3px;top:439.33px;font-size:17.8px;color:#2b2b2b;letter-spacing:1.399px;">calculated</div>
<div class="t" style="left:272.3px;top:439.33px;font-size:17.8px;color:#2b2b2b;letter-spacing:0.95px;">c</div>
<div class="t" style="left:72.3px;top:463.93px;font-size:17.8px;color:#2b2b2b;letter-spacing:1.142px;">balances</div>
<div class="t" style="left:155.8px;top:463.93px;font-size:17.8px;color:#2b2b2b;letter-spacing:0.034px;">itself.</div>
<div class="t" style="left:72.3px;top:503.53px;font-size:17.8px;color:#2b2b2b;letter-spacing:0.549px;font-weight:bold;">Marketable</div>
<div class="t" style="left:177.0px;top:503.53px;font-size:17.8px;color:#2b2b2b;transform:scaleX(0.9570);transform-origin:0 0;font-weight:bold;">securities</div>
<div class="t" style="left:256.3px;top:503.53px;font-size:17.8px;color:#2b2b2b;letter-spacing:0.95px;">:</div>
<div class="t" style="left:267.3px;top:503.53px;font-size:17.8px;color:#2b2b2b;letter-spacing:0.95px;">p</div>
<div class="t" style="left:72.3px;top:528.13px;font-size:17.8px;color:#2b2b2b;letter-spacing:1.169px;">market</div>
<div class="t" style="left:140.3px;top:528.13px;font-size:17.8px;color:#2b2b2b;letter-spacing:0.291px;">funds,</div>
<div class="t" style="left:199.0px;top:528.13px;font-size:17.8px;color:#2b2b2b;letter-spacing:0.983px;">publicly</div>
<div class="t" style="left:271.8px;top:528.13px;font-size:17.8px;color:#2b2b2b;letter-spacing:0.95px;">t</div>
<div class="t" style="left:72.3px;top:552.73px;font-size:17.8px;color:#2b2b2b;letter-spacing:1.197px;">hold</div>
<div class="t" style="left:115.3px;top:552.73px;font-size:17.8px;color:#2b2b2b;letter-spacing:1.901px;">at</div>
<div class="t" style="left:137.8px;top:552.73px;font-size:17.8px;color:#2b2b2b;letter-spacing:0.751px;">the</div>
<div class="t" style="left:170.3px;top:552.73px;font-size:17.8px;color:#2b2b2b;letter-spacing:1.273px;">end</div>
<div class="t" style="left:209.8px;top:552.73px;font-size:17.8px;color:#2b2b2b;letter-spacing:0.601px;">of</div>
<div class="t" style="left:231.3px;top:552.73px;font-size:17.8px;color:#2b2b2b;letter-spacing:1.882px;">each</div>
<div class="t" style="left:72.3px;top:592.63px;font-size:17.8px;color:#2b2b2b;transform:scaleX(0.9894);transform-origin:0 0;font-weight:bold;">Accounts</div>
<div class="t" style="left:159.1px;top:592.63px;font-size:17.8px;color:#2b2b2b;letter-spacing:0.562px;font-weight:bold;">receivable</div>
<div class="t" style="left:251.3px;top:592.63px;font-size:17.8px;color:#2b2b2b;letter-spacing:0.95px;">:</div>
<div class="t" style="left:262.3px;top:592.63px;font-size:17.8px;color:#2b2b2b;letter-spacing:0.95px;">th</div>
<div class="t" style="left:72.3px;top:617.03px;font-size:17.8px;color:#2b2b2b;letter-spacing:1.751px;">the</div>
<div class="t" style="left:105.9px;top:617.03px;font-size:17.8px;color:#2b2b2b;letter-spacing:2.467px;">data</div>
<div class="t" style="left:152.3px;top:617.03px;font-size:17.8px;color:#2b2b2b;letter-spacing:1.391px;">in</div>
<div class="t" style="left:173.3px;top:617.03px;font-size:17.8px;color:#2b2b2b;letter-spacing:1.751px;">the</div>
<div class="t" style="left:207.3px;top:617.03px;font-size:17.8px;color:#2b2b2b;letter-spacing:0.95px;">Account</div>
<div class="t" style="left:72.3px;top:641.43px;font-size:17.8px;color:#2b2b2b;letter-spacing:2.401px;">to</div>
<div class="t" style="left:95.0px;top:641.43px;font-size:17.8px;color:#2b2b2b;letter-spacing:1.151px;">the</div>
<div class="t" style="left:128.3px;top:641.43px;font-size:17.8px;color:#2b2b2b;letter-spacing:0.861px;">Accounts</div>
<div class="t" style="left:213.3px;top:641.43px;font-size:17.8px;color:#2b2b2b;letter-spacing:0.95px;">Receivable</div>
<div class="t" style="left:72.3px;top:680.83px;font-size:17.8px;color:#2b2b2b;letter-spacing:0.6px;font-weight:bold;">Sales</div>
<div class="t" style="left:123.3px;top:680.83px;font-size:17.8px;color:#2b2b2b;letter-spacing:0.6px;font-weight:bold;">tax:</div>
<div class="t" style="left:271.3px;top:680.83px;font-size:17.8px;color:#2b2b2b;letter-spacing:0.95px;">t</div>
</div>
<div style="left:1622px;top:130px;width:69px;height:22px;border:2px solid #1e6e42"></div>
<div style="left:1691px;top:152px;width:6px;height:6px;background:#fff;"></div>
<div style="left:1692px;top:153px;width:5px;height:5px;background:#1e6e42;"></div>
<div style="left:387px;top:9px;width:1px;height:783px;background:#a0a0a0;"></div>
<div style="left:0px;top:107px;width:1899px;height:1px;background:#a0a0a0;"></div>
<div style="left:0px;top:0px;width:1919px;height:27px;background:#262626;"></div>
<div style="left:0px;top:27px;width:28px;height:765px;background:#262626;"></div>
<div style="left:28px;top:27px;width:1871px;height:1px;background:#8c8c8c;"></div>
<div style="left:28px;top:27px;width:1px;height:765px;background:#8c8c8c;"></div>
<div style="left:0px;top:107px;width:28px;height:1px;background:#a0a0a0;"></div>
<div style="left:387px;top:9px;width:1px;height:19px;background:#a0a0a0;"></div>
<svg class="a" style="left:13px;top:12px" width="13" height="13"><polygon points="12,1 12,12 1,12" fill="#5f5f5f"/></svg>
<div style="left:1624px;top:9px;width:70px;height:18px;background:#636363;"></div>
<div style="left:1623px;top:26px;width:71px;height:2px;background:#1e7a46;"></div>
<div class="t " style="top:11.06px;font-size:15.4px;color:#e4e4e4;left:-450.00px;width:1000px;text-align:center;">A</div>
<div style="left:70px;top:9px;width:1px;height:18px;background:#5e5e5e;"></div>
<div class="t " style="top:11.06px;font-size:15.4px;color:#e4e4e4;left:-271.00px;width:1000px;text-align:center;">B</div>
<div class="t " style="top:11.06px;font-size:15.4px;color:#e4e4e4;left:-61.50px;width:1000px;text-align:center;">C</div>
<div style="left:489px;top:9px;width:1px;height:18px;background:#5e5e5e;"></div>
<div class="t " style="top:11.06px;font-size:15.4px;color:#e4e4e4;left:34.50px;width:1000px;text-align:center;">D</div>
<div style="left:579px;top:9px;width:1px;height:18px;background:#5e5e5e;"></div>
<div class="t " style="top:11.06px;font-size:15.4px;color:#e4e4e4;left:124.50px;width:1000px;text-align:center;">E</div>
<div style="left:669px;top:9px;width:1px;height:18px;background:#5e5e5e;"></div>
<div class="t " style="top:11.06px;font-size:15.4px;color:#e4e4e4;left:214.50px;width:1000px;text-align:center;">F</div>
<div style="left:759px;top:9px;width:1px;height:18px;background:#5e5e5e;"></div>
<div class="t " style="top:11.06px;font-size:15.4px;color:#e4e4e4;left:307.50px;width:1000px;text-align:center;">G</div>
<div style="left:855px;top:9px;width:1px;height:18px;background:#5e5e5e;"></div>
<div class="t " style="top:11.06px;font-size:15.4px;color:#e4e4e4;left:403.50px;width:1000px;text-align:center;">H</div>
<div style="left:951px;top:9px;width:1px;height:18px;background:#5e5e5e;"></div>
<div class="t " style="top:11.06px;font-size:15.4px;color:#e4e4e4;left:499.50px;width:1000px;text-align:center;">I</div>
<div style="left:1047px;top:9px;width:1px;height:18px;background:#5e5e5e;"></div>
<div class="t " style="top:11.06px;font-size:15.4px;color:#e4e4e4;left:595.50px;width:1000px;text-align:center;">J</div>
<div style="left:1143px;top:9px;width:1px;height:18px;background:#5e5e5e;"></div>
<div class="t " style="top:11.06px;font-size:15.4px;color:#e4e4e4;left:691.50px;width:1000px;text-align:center;">K</div>
<div style="left:1239px;top:9px;width:1px;height:18px;background:#5e5e5e;"></div>
<div class="t " style="top:11.06px;font-size:15.4px;color:#e4e4e4;left:787.50px;width:1000px;text-align:center;">L</div>
<div style="left:1335px;top:9px;width:1px;height:18px;background:#5e5e5e;"></div>
<div class="t " style="top:11.06px;font-size:15.4px;color:#e4e4e4;left:883.50px;width:1000px;text-align:center;">M</div>
<div style="left:1431px;top:9px;width:1px;height:18px;background:#5e5e5e;"></div>
<div class="t " style="top:11.06px;font-size:15.4px;color:#e4e4e4;left:979.50px;width:1000px;text-align:center;">N</div>
<div style="left:1527px;top:9px;width:1px;height:18px;background:#5e5e5e;"></div>
<div class="t " style="top:11.06px;font-size:15.4px;color:#e4e4e4;left:1075.50px;width:1000px;text-align:center;">O</div>
<div style="left:1623px;top:9px;width:1px;height:18px;background:#5e5e5e;"></div>
<div class="t " style="top:11.06px;font-size:15.4px;color:#fff;left:1158.50px;width:1000px;text-align:center;">P</div>
<div style="left:1693px;top:9px;width:1px;height:18px;background:#5e5e5e;"></div>
<div class="t " style="top:11.06px;font-size:15.4px;color:#e4e4e4;left:1228.50px;width:1000px;text-align:center;">Q</div>
<div style="left:1763px;top:9px;width:1px;height:18px;background:#5e5e5e;"></div>
<div class="t " style="top:11.06px;font-size:15.4px;color:#e4e4e4;left:1298.50px;width:1000px;text-align:center;">R</div>
<div style="left:1833px;top:9px;width:1px;height:18px;background:#5e5e5e;"></div>
<div class="t " style="top:11.06px;font-size:15.4px;color:#e4e4e4;left:1368.50px;width:1000px;text-align:center;">S</div>
<div style="left:1623px;top:9px;width:1px;height:18px;background:#9a9a9a;"></div>
<div style="left:1693px;top:9px;width:1px;height:18px;background:#9a9a9a;"></div>
<div style="left:28px;top:9px;width:1px;height:18px;background:#5e5e5e;"></div>
<div style="left:0px;top:48px;width:28px;height:1px;background:#4e4e4e;"></div>
<div class="t " style="top:32.06px;font-size:15.4px;color:#e4e4e4;left:-485.50px;width:1000px;text-align:center;">1</div>
<div style="left:0px;top:71px;width:28px;height:1px;background:#4e4e4e;"></div>
<div class="t " style="top:53.06px;font-size:15.4px;color:#e4e4e4;left:-485.50px;width:1000px;text-align:center;">2</div>
<div style="left:0px;top:86px;width:28px;height:1px;background:#4e4e4e;"></div>
<div class="t " style="top:70.06px;font-size:15.4px;color:#e4e4e4;left:-485.50px;width:1000px;text-align:center;">3</div>
<div style="left:0px;top:107px;width:28px;height:1px;background:#a0a0a0;"></div>
<div class="t " style="top:91.06px;font-size:15.4px;color:#e4e4e4;left:-485.50px;width:1000px;text-align:center;">4</div>
<div style="left:0px;top:131px;width:28px;height:1px;background:#9a9a9a;"></div>
<div class="t " style="top:113.06px;font-size:15.4px;color:#e4e4e4;left:-485.50px;width:1000px;text-align:center;">11</div>
<div style="left:0px;top:132px;width:27px;height:23px;background:#646464;"></div>
<div style="left:27px;top:131px;width:2px;height:25px;background:#1e7a46;"></div>
<div style="left:0px;top:155px;width:28px;height:1px;background:#9a9a9a;"></div>
<div class="t " style="top:137.06px;font-size:15.4px;color:#fff;left:-485.50px;width:1000px;text-align:center;">12</div>
<div style="left:0px;top:179px;width:28px;height:1px;background:#4e4e4e;"></div>
<div class="t " style="top:161.06px;font-size:15.4px;color:#e4e4e4;left:-485.50px;width:1000px;text-align:center;">13</div>
<div style="left:0px;top:200px;width:28px;height:1px;background:#4e4e4e;"></div>
<div class="t " style="top:184.06px;font-size:15.4px;color:#e4e4e4;left:-485.50px;width:1000px;text-align:center;">14</div>
<div style="left:0px;top:221px;width:28px;height:1px;background:#4e4e4e;"></div>
<div class="t " style="top:205.06px;font-size:15.4px;color:#e4e4e4;left:-485.50px;width:1000px;text-align:center;">15</div>
<div style="left:0px;top:238px;width:28px;height:1px;background:#4e4e4e;"></div>
<div class="t " style="top:222.06px;font-size:15.4px;color:#e4e4e4;left:-485.50px;width:1000px;text-align:center;">16</div>
<div style="left:0px;top:259px;width:28px;height:1px;background:#4e4e4e;"></div>
<div class="t " style="top:243.06px;font-size:15.4px;color:#e4e4e4;left:-485.50px;width:1000px;text-align:center;">17</div>
<div style="left:0px;top:283px;width:28px;height:1px;background:#4e4e4e;"></div>
<div class="t " style="top:265.06px;font-size:15.4px;color:#e4e4e4;left:-485.50px;width:1000px;text-align:center;">18</div>
<div style="left:0px;top:307px;width:28px;height:1px;background:#4e4e4e;"></div>
<div class="t " style="top:289.06px;font-size:15.4px;color:#e4e4e4;left:-485.50px;width:1000px;text-align:center;">19</div>
<div style="left:0px;top:331px;width:28px;height:1px;background:#4e4e4e;"></div>
<div class="t " style="top:313.06px;font-size:15.4px;color:#e4e4e4;left:-485.50px;width:1000px;text-align:center;">20</div>
<div style="left:0px;top:355px;width:28px;height:1px;background:#4e4e4e;"></div>
<div class="t " style="top:337.06px;font-size:15.4px;color:#e4e4e4;left:-485.50px;width:1000px;text-align:center;">21</div>
<div style="left:0px;top:379px;width:28px;height:1px;background:#4e4e4e;"></div>
<div class="t " style="top:361.06px;font-size:15.4px;color:#e4e4e4;left:-485.50px;width:1000px;text-align:center;">22</div>
<div style="left:0px;top:403px;width:28px;height:1px;background:#4e4e4e;"></div>
<div class="t " style="top:385.06px;font-size:15.4px;color:#e4e4e4;left:-485.50px;width:1000px;text-align:center;">23</div>
<div style="left:0px;top:427px;width:28px;height:1px;background:#4e4e4e;"></div>
<div class="t " style="top:409.06px;font-size:15.4px;color:#e4e4e4;left:-485.50px;width:1000px;text-align:center;">24</div>
<div style="left:0px;top:451px;width:28px;height:1px;background:#4e4e4e;"></div>
<div class="t " style="top:433.06px;font-size:15.4px;color:#e4e4e4;left:-485.50px;width:1000px;text-align:center;">25</div>
<div style="left:0px;top:475px;width:28px;height:1px;background:#4e4e4e;"></div>
<div class="t " style="top:457.06px;font-size:15.4px;color:#e4e4e4;left:-485.50px;width:1000px;text-align:center;">26</div>
<div style="left:0px;top:499px;width:28px;height:1px;background:#4e4e4e;"></div>
<div class="t " style="top:481.06px;font-size:15.4px;color:#e4e4e4;left:-485.50px;width:1000px;text-align:center;">27</div>
<div style="left:0px;top:520px;width:28px;height:1px;background:#4e4e4e;"></div>
<div class="t " style="top:504.06px;font-size:15.4px;color:#e4e4e4;left:-485.50px;width:1000px;text-align:center;">28</div>
<div style="left:0px;top:541px;width:28px;height:1px;background:#4e4e4e;"></div>
<div class="t " style="top:525.06px;font-size:15.4px;color:#e4e4e4;left:-485.50px;width:1000px;text-align:center;">29</div>
<div style="left:0px;top:565px;width:28px;height:1px;background:#4e4e4e;"></div>
<div class="t " style="top:547.06px;font-size:15.4px;color:#e4e4e4;left:-485.50px;width:1000px;text-align:center;">30</div>
<div style="left:0px;top:589px;width:28px;height:1px;background:#4e4e4e;"></div>
<div class="t " style="top:571.06px;font-size:15.4px;color:#e4e4e4;left:-485.50px;width:1000px;text-align:center;">31</div>
<div style="left:0px;top:613px;width:28px;height:1px;background:#4e4e4e;"></div>
<div class="t " style="top:595.06px;font-size:15.4px;color:#e4e4e4;left:-485.50px;width:1000px;text-align:center;">32</div>
<div style="left:0px;top:637px;width:28px;height:1px;background:#4e4e4e;"></div>
<div class="t " style="top:619.06px;font-size:15.4px;color:#e4e4e4;left:-485.50px;width:1000px;text-align:center;">33</div>
<div style="left:0px;top:661px;width:28px;height:1px;background:#4e4e4e;"></div>
<div class="t " style="top:643.06px;font-size:15.4px;color:#e4e4e4;left:-485.50px;width:1000px;text-align:center;">34</div>
<div style="left:0px;top:682px;width:28px;height:1px;background:#4e4e4e;"></div>
<div class="t " style="top:666.06px;font-size:15.4px;color:#e4e4e4;left:-485.50px;width:1000px;text-align:center;">35</div>
<div style="left:0px;top:703px;width:28px;height:1px;background:#4e4e4e;"></div>
<div class="t " style="top:687.06px;font-size:15.4px;color:#e4e4e4;left:-485.50px;width:1000px;text-align:center;">36</div>
<div style="left:0px;top:724px;width:28px;height:1px;background:#4e4e4e;"></div>
<div class="t " style="top:708.06px;font-size:15.4px;color:#e4e4e4;left:-485.50px;width:1000px;text-align:center;">37</div>
<div style="left:0px;top:745px;width:28px;height:1px;background:#4e4e4e;"></div>
<div class="t " style="top:729.06px;font-size:15.4px;color:#e4e4e4;left:-485.50px;width:1000px;text-align:center;">38</div>
<div style="left:0px;top:766px;width:28px;height:1px;background:#4e4e4e;"></div>
<div class="t " style="top:750.06px;font-size:15.4px;color:#e4e4e4;left:-485.50px;width:1000px;text-align:center;">39</div>
<div style="left:0px;top:790px;width:28px;height:1px;background:#4e4e4e;"></div>
<div class="t " style="top:772.06px;font-size:15.4px;color:#e4e4e4;left:-485.50px;width:1000px;text-align:center;">40</div>
<div style="left:1898px;top:27px;width:1px;height:766px;background:#8c8c8c;"></div>
<div style="left:1899px;top:0px;width:20px;height:793px;background:#262626;"></div>
<div style="left:1902px;top:25px;width:17px;height:753px;background:#343434;"></div>
<div style="left:1903px;top:12px;width:13px;height:13px;background:#4a4a4a;"></div>
<div style="left:1903px;top:75px;width:13px;height:250px;background:#4f4f4f;"></div>
<div style="left:1903px;top:778px;width:13px;height:13px;background:#4a4a4a;"></div>
<svg class="a" style="left:1903px;top:12px" width="13" height="13"><polygon points="6.5,3.5 11,8.5 2,8.5" fill="#8c8c8c"/></svg>
<svg class="a" style="left:1903px;top:778px" width="13" height="13"><polygon points="6.5,9.5 11,4.5 2,4.5" fill="#8c8c8c"/></svg>
<div style="left:0px;top:792px;width:1919px;height:1px;background:#6a6a6a;"></div>
<div style="left:0px;top:793px;width:1919px;height:27px;background:#262626;"></div>
<div style="left:0px;top:820px;width:1919px;height:21px;background:#333;"></div>
<svg class="a" style="left:24px;top:799px" width="40" height="14"><polygon points="9,2.5 9,11.5 4,7" fill="#8a8a8a"/><polygon points="31,2.5 31,11.5 36.5,7" fill="#e8e8e8"/></svg>
<div style="left:100px;top:796px;width:1px;height:20px;background:#8a8a8a;"></div>
<div style="left:103px;top:795px;width:92px;height:22px;background:#b1a0c7;"></div>
<div class="t " style="top:799.40px;font-size:13px;color:#1e1e1e;left:115.00px;transform:scaleX(0.9823);transform-origin:0 0;">Instructions</div>
<div style="left:200px;top:795px;width:99px;height:22px;background:#b1a0c7;"></div>
<div class="t " style="top:799.40px;font-size:13px;color:#1e1e1e;left:212.30px;transform:scaleX(0.9863);transform-origin:0 0;">Assumptions</div>
<div style="left:197px;top:796px;width:1px;height:20px;background:#8a8a8a;"></div>
<div style="left:304px;top:795px;width:34px;height:22px;background:#95b3d7;"></div>
<div class="t " style="top:799.40px;font-size:13px;color:#1e1e1e;left:314.00px;transform:scaleX(0.7546);transform-origin:0 0;">PL</div>
<div style="left:301px;top:796px;width:1px;height:20px;background:#8a8a8a;"></div>
<div style="left:340px;top:792px;width:40px;height:23px;background:#fff;"></div>
<div style="left:340px;top:815px;width:40px;height:2px;background:#1e7a46;"></div>
<div style="left:343px;top:796px;width:34px;height:18px;background:linear-gradient(#fff,#fdf3f2 35%,#f0cfcc)"></div>
<div class="t " style="top:798.35px;font-size:14px;color:#1b7442;font-weight:bold;left:352.50px;transform:scaleX(0.7507);transform-origin:0 0;">BS</div>
<div style="left:382px;top:795px;width:34px;height:22px;background:#c4d79b;"></div>
<div class="t " style="top:799.40px;font-size:13px;color:#1e1e1e;left:391.80px;transform:scaleX(0.7617);transform-origin:0 0;">CF</div>
<div style="left:421px;top:795px;width:88px;height:22px;background:#95b3d7;"></div>
<div class="t " style="top:799.40px;font-size:13px;color:#1e1e1e;left:432.30px;transform:scaleX(0.9627);transform-origin:0 0;">Hotel Sales</div>
<div style="left:418px;top:796px;width:1px;height:20px;background:#8a8a8a;"></div>
<div style="left:514px;top:795px;width:85px;height:22px;background:#95b3d7;"></div>
<div class="t " style="top:799.40px;font-size:13px;color:#1e1e1e;left:525.30px;transform:scaleX(0.9592);transform-origin:0 0;">Restaurant</div>
<div style="left:511px;top:796px;width:1px;height:20px;background:#8a8a8a;"></div>
<div style="left:604px;top:795px;width:118px;height:22px;background:#95b3d7;"></div>
<div class="t " style="top:799.40px;font-size:13px;color:#1e1e1e;left:616.00px;transform:scaleX(0.9837);transform-origin:0 0;">Conference Hall</div>
<div style="left:601px;top:796px;width:1px;height:20px;background:#8a8a8a;"></div>
<div style="left:726px;top:795px;width:140px;height:22px;background:#95b3d7;"></div>
<div class="t " style="top:799.40px;font-size:13px;color:#1e1e1e;left:737.00px;transform:scaleX(0.9889);transform-origin:0 0;">Direct Costs Rooms</div>
<div style="left:723px;top:796px;width:1px;height:20px;background:#8a8a8a;"></div>
<div style="left:870px;top:795px;width:99px;height:22px;background:#95b3d7;"></div>
<div class="t " style="top:799.40px;font-size:13px;color:#1e1e1e;left:881.00px;transform:scaleX(0.9639);transform-origin:0 0;">Staff Salaries</div>
<div style="left:867px;top:796px;width:1px;height:20px;background:#8a8a8a;"></div>
<div style="left:973px;top:795px;width:164px;height:22px;background:#95b3d7;"></div>
<div class="t " style="top:799.40px;font-size:13px;color:#1e1e1e;left:988.00px;transform:scaleX(0.9951);transform-origin:0 0;">Administration Salaries</div>
<div style="left:970px;top:796px;width:1px;height:20px;background:#8a8a8a;"></div>
<div style="left:1142px;top:795px;width:81px;height:22px;background:#95b3d7;"></div>
<div class="t " style="top:799.40px;font-size:13px;color:#1e1e1e;left:1152.00px;transform:scaleX(0.9327);transform-origin:0 0;">SGA Costs</div>
<div style="left:1139px;top:796px;width:1px;height:20px;background:#8a8a8a;"></div>
<div style="left:1227px;top:795px;width:145px;height:22px;background:#da9694;"></div>
<div class="t " style="top:799.40px;font-size:13px;color:#1e1e1e;left:1240.00px;transform:scaleX(0.9695);transform-origin:0 0;">Accounts Receivable</div>
<div style="left:1224px;top:796px;width:1px;height:20px;background:#8a8a8a;"></div>
<div style="left:1377px;top:795px;width:127px;height:22px;background:#da9694;"></div>
<div class="t " style="top:799.40px;font-size:13px;color:#1e1e1e;left:1389.30px;transform:scaleX(0.9677);transform-origin:0 0;">Accounts Payable</div>
<div style="left:1374px;top:796px;width:1px;height:20px;background:#8a8a8a;"></div>
<div style="left:1509px;top:795px;width:80px;height:22px;background:#da9694;"></div>
<div class="t " style="top:799.40px;font-size:13px;color:#1e1e1e;left:1519.30px;transform:scaleX(0.9345);transform-origin:0 0;">Purchases</div>
<div style="left:1506px;top:796px;width:1px;height:20px;background:#8a8a8a;"></div>
<div style="left:1594px;top:795px;width:34px;height:22px;background:#da9694;"></div>
<div class="t" style="left:1603.3px;top:799.40px;font-size:13px;color:#1e1e1e;width:24.7px;overflow:hidden;letter-spacing:-0.3px">Capital</div>
<div style="left:1591px;top:796px;width:1px;height:20px;background:#8a8a8a;"></div>
<div style="left:1637px;top:808px;width:2px;height:2px;background:#e8e8e8;"></div>
<div style="left:1641.5px;top:808px;width:2px;height:2px;background:#e8e8e8;"></div>
<div style="left:1646px;top:808px;width:2px;height:2px;background:#e8e8e8;"></div>
<svg class="a" style="left:1659px;top:796px" width="20" height="20"><circle cx="10" cy="10" r="7.3" fill="none" stroke="#e8e8e8" stroke-width="1.3"/><path d="M10 5.8V14.2M5.8 10H14.2" stroke="#e8e8e8" stroke-width="1.4"/></svg>
<div style="left:1697px;top:800px;width:2px;height:2px;background:#e8e8e8;"></div>
<div style="left:1697px;top:805px;width:2px;height:2px;background:#e8e8e8;"></div>
<div style="left:1697px;top:810px;width:2px;height:2px;background:#e8e8e8;"></div>
<div style="left:1715px;top:800px;width:182px;height:13px;background:#353535;"></div>
<div style="left:1715px;top:800px;width:13px;height:13px;background:#444;"></div>
<div style="left:1883px;top:800px;width:13px;height:13px;background:#444;"></div>
<div style="left:1730px;top:800px;width:105px;height:13px;background:#4d4d4d;"></div>
<svg class="a" style="left:1715px;top:800px" width="13" height="13"><polygon points="8.5,2.5 8.5,10.5 4,6.5" fill="#8c8c8c"/></svg>
<svg class="a" style="left:1883px;top:800px" width="13" height="13"><polygon points="4.5,2.5 4.5,10.5 9,6.5" fill="#8c8c8c"/></svg>
<div class="t " style="top:826.69px;font-size:11px;color:#f0f0f0;left:7.30px;">Ready</div>
<div style="left:1620px;top:820px;width:40px;height:21px;background:#5a5a5a;"></div>
<svg class="a" style="left:1620px;top:820px" width="120" height="21" fill="none" stroke="#e8e8e8" stroke-width="1.1">
<rect x="13.5" y="4.5" width="12" height="12"/><path d="M13.5 8.5h12M13.5 12.5h12M17.5 4.5v12M21.5 4.5v12"/>
<rect x="53.5" y="4.5" width="13" height="12"/><rect x="56.5" y="7.5" width="7" height="7"/><path d="M58 10h4M58 12h4" stroke-width="1"/>
<path d="M93.500 4.500h13v12h-13zM93.500 10.500h13M97.500 4.500v6M101.500 4.500v6"/>
</svg>
<div style="left:1746px;top:831px;width:8px;height:1px;background:#cfcfcf;"></div>
<div style="left:1759px;top:831px;width:100px;height:1px;background:#cfcfcf;"></div>
<div style="left:1809px;top:826px;width:5px;height:11px;background:#f0f0f0;"></div>
<div style="left:1864px;top:831px;width:9px;height:1px;background:#cfcfcf;"></div>
<div style="left:1868px;top:827px;width:1px;height:9px;background:#cfcfcf;"></div>
<div class="t " style="top:826.70px;font-size:10.4px;color:#f0f0f0;left:1886.50px;">110%</div>
</div></body></html>
